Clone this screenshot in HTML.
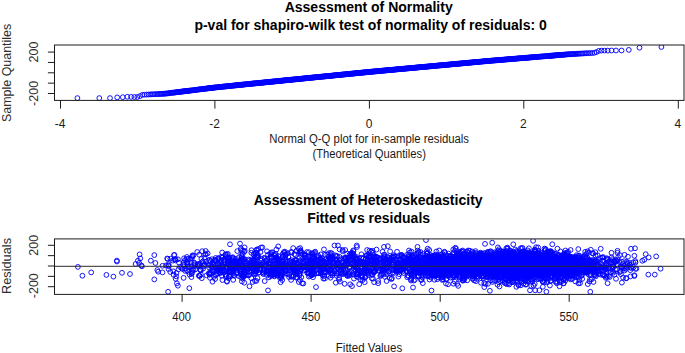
<!DOCTYPE html>
<html><head><meta charset="utf-8"><title>Residual diagnostics</title>
<style>html,body{margin:0;padding:0;background:#fff}svg{display:block}</style></head><body>
<svg width="685" height="353" viewBox="0 0 685 353" font-family="'Liberation Sans', Arial, sans-serif">
<rect width="685" height="353" fill="#fff"/>
<defs>
<marker id="c" markerWidth="8" markerHeight="8" refX="4" refY="4" markerUnits="userSpaceOnUse" overflow="visible"><circle cx="4" cy="4" r="2.4" fill="none" stroke="#00f" stroke-width="0.92"/></marker>
<filter id="b" x="0" y="0" width="100%" height="100%" filterUnits="userSpaceOnUse" primitiveUnits="userSpaceOnUse"><feGaussianBlur stdDeviation="0.4"/></filter>
<clipPath id="k1"><rect x="54.5" y="45.0" width="629.5" height="55.900000000000006"/></clipPath>
<clipPath id="k2"><rect x="54.5" y="238.9" width="629.5" height="55.49999999999997"/></clipPath>
</defs>
<text x="368.7" y="11.8" font-size="14" text-anchor="middle" font-weight="bold">Assessment of Normality</text>
<text x="370.6" y="29.9" font-size="14" text-anchor="middle" font-weight="bold">p-val for shapiro-wilk test of normality of residuals: 0</text>
<g clip-path="url(#k1)"><polyline filter="url(#b)" fill="none" stroke="none" marker-start="url(#c)" marker-mid="url(#c)" marker-end="url(#c)" points="77.4,98.1 99.3,98.1 110.0,98.1 117.2,97.4 122.8,97.2 127.3,96.8 131.1,96.9 134.4,97.0 137.3,97.0 140.0,96.1 142.4,94.8 144.5,94.7 146.6,94.6 148.4,94.5 150.2,94.4 151.8,94.3 153.4,94.3 154.9,94.2 156.3,94.1 157.6,94.1 158.9,94.0 160.1,93.9 161.3,93.9 162.4,93.8 163.5,93.8 164.5,93.7 165.5,93.6 166.5,93.5 167.4,93.4 168.3,93.3 169.2,93.2 170.1,93.0 170.9,92.9 171.7,92.8 172.5,92.7 173.3,92.6 174.0,92.6 174.8,92.5 175.5,92.4 176.2,92.3 176.9,92.2 177.5,92.1 178.2,92.0 178.8,92.0 179.5,91.9 180.1,91.8 180.7,91.7 181.3,91.7 181.8,91.6 182.4,91.5 183.0,91.4 183.5,91.4 184.1,91.3 184.6,91.2 185.1,91.2 185.7,91.1 186.2,91.1 186.7,91.0 187.2,90.9 187.6,90.9 188.1,90.8 188.6,90.8 189.1,90.7 189.5,90.6 190.0,90.6 190.9,90.5 191.7,90.4 192.6,90.3 193.4,90.2 194.2,90.1 195.0,90.0 195.7,89.9 196.5,89.8 197.2,89.7 197.9,89.6 198.7,89.5 199.3,89.4 200.0,89.3 200.7,89.3 201.3,89.2 202.0,89.1 202.6,89.0 203.2,88.9 203.8,88.9 204.4,88.8 205.0,88.7 205.6,88.7 206.2,88.6 206.7,88.5 207.3,88.4 207.8,88.4 208.4,88.3 208.9,88.2 209.4,88.2 209.9,88.1 210.4,88.1 210.9,88.0 211.4,87.9 211.9,87.9 212.4,87.8 212.9,87.8 213.3,87.7 213.8,87.6 214.3,87.6 214.7,87.5 215.4,87.5 216.0,87.4 216.7,87.3 217.3,87.3 217.9,87.2 218.6,87.1 219.2,87.1 219.8,87.0 220.3,86.9 220.9,86.9 221.5,86.8 222.1,86.8 222.6,86.7 223.2,86.6 223.7,86.6 224.2,86.5 224.8,86.5 225.3,86.4 225.8,86.4 226.3,86.3 226.8,86.3 227.3,86.2 227.8,86.2 228.3,86.1 228.8,86.1 229.2,86.0 229.7,86.0 230.2,85.9 230.6,85.9 231.1,85.8 231.7,85.8 232.3,85.7 232.9,85.6 233.4,85.6 234.0,85.5 234.6,85.5 235.1,85.4 235.6,85.4 236.2,85.3 236.7,85.2 237.2,85.2 237.8,85.1 238.3,85.1 238.8,85.0 239.3,85.0 239.8,84.9 240.3,84.9 240.8,84.8 241.3,84.8 241.7,84.7 242.2,84.7 242.7,84.6 243.1,84.6 243.6,84.5 244.0,84.5 244.6,84.4 245.2,84.4 245.7,84.3 246.2,84.3 246.8,84.2 247.3,84.1 247.8,84.1 248.4,84.0 248.9,84.0 249.4,83.9 249.9,83.9 250.4,83.8 250.9,83.8 251.4,83.7 251.9,83.7 252.3,83.6 252.8,83.6 253.3,83.5 253.7,83.5 254.2,83.4 254.7,83.4 255.1,83.4 255.6,83.3 256.1,83.3 256.6,83.2 257.2,83.2 257.7,83.1 258.2,83.0 258.7,83.0 259.2,82.9 259.7,82.9 260.2,82.8 260.7,82.8 261.2,82.7 261.7,82.7 262.1,82.7 262.6,82.6 263.1,82.6 263.5,82.5 264.0,82.5 264.5,82.4 264.9,82.4 265.4,82.3 265.9,82.3 266.4,82.2 266.9,82.2 267.4,82.1 267.9,82.1 268.4,82.0 268.9,82.0 269.4,81.9 269.9,81.9 270.4,81.8 270.9,81.8 271.4,81.7 271.8,81.7 272.3,81.6 272.8,81.6 273.2,81.5 273.7,81.5 274.1,81.5 274.6,81.4 275.1,81.4 275.6,81.3 276.1,81.3 276.6,81.2 277.1,81.2 277.6,81.1 278.1,81.1 278.6,81.0 279.1,81.0 279.5,80.9 280.0,80.9 280.5,80.8 280.9,80.8 281.4,80.7 281.9,80.7 282.3,80.6 282.8,80.6 283.2,80.5 283.7,80.5 284.2,80.4 284.7,80.4 285.2,80.3 285.7,80.3 286.2,80.2 286.7,80.2 287.2,80.1 287.7,80.1 288.1,80.0 288.6,80.0 289.1,80.0 289.5,79.9 290.0,79.9 290.5,79.8 290.9,79.8 291.4,79.7 291.8,79.7 292.3,79.6 292.8,79.6 293.3,79.5 293.8,79.5 294.3,79.4 294.8,79.4 295.3,79.3 295.7,79.3 296.2,79.2 296.7,79.2 297.2,79.1 297.6,79.1 298.1,79.0 298.5,79.0 299.0,79.0 299.5,78.9 299.9,78.9 300.4,78.8 300.9,78.8 301.4,78.7 301.8,78.7 302.3,78.6 302.8,78.6 303.3,78.5 303.8,78.5 304.3,78.4 304.7,78.4 305.2,78.3 305.7,78.3 306.1,78.2 306.6,78.2 307.1,78.1 307.5,78.1 308.0,78.1 308.4,78.0 308.9,78.0 309.3,77.9 309.8,77.9 310.3,77.8 310.8,77.8 311.3,77.7 311.8,77.7 312.2,77.6 312.7,77.6 313.2,77.5 313.7,77.5 314.1,77.4 314.6,77.4 315.1,77.3 315.5,77.3 316.0,77.3 316.5,77.2 316.9,77.2 317.4,77.1 317.8,77.1 318.3,77.0 318.7,77.0 319.2,76.9 319.7,76.9 320.2,76.8 320.7,76.8 321.1,76.7 321.6,76.7 322.1,76.6 322.6,76.6 323.0,76.5 323.5,76.5 324.0,76.5 324.4,76.4 324.9,76.4 325.4,76.3 325.8,76.3 326.3,76.2 326.8,76.2 327.2,76.1 327.7,76.1 328.1,76.0 328.6,76.0 329.0,75.9 329.5,75.9 330.0,75.9 330.4,75.8 330.9,75.8 331.4,75.7 331.9,75.7 332.4,75.6 332.8,75.6 333.3,75.5 333.8,75.5 334.2,75.4 334.7,75.4 335.2,75.3 335.6,75.3 336.1,75.2 336.6,75.2 337.0,75.1 337.5,75.1 338.0,75.1 338.4,75.0 338.9,75.0 339.3,74.9 339.8,74.9 340.2,74.8 340.7,74.8 341.2,74.7 341.6,74.7 342.1,74.6 342.5,74.6 343.0,74.5 343.5,74.5 343.9,74.5 344.4,74.4 344.9,74.4 345.4,74.3 345.9,74.3 346.3,74.2 346.8,74.2 347.3,74.1 347.8,74.1 348.2,74.0 348.7,74.0 349.2,73.9 349.6,73.9 350.1,73.8 350.6,73.8 351.0,73.7 351.5,73.7 352.0,73.6 352.4,73.6 352.9,73.6 353.4,73.5 353.8,73.5 354.3,73.4 354.7,73.4 355.2,73.3 355.7,73.3 356.1,73.2 356.6,73.2 357.1,73.1 357.5,73.1 358.0,73.0 358.4,73.0 358.9,73.0 359.3,72.9 359.8,72.9 360.3,72.8 360.7,72.8 361.2,72.7 361.6,72.7 362.1,72.6 362.5,72.6 363.0,72.5 363.5,72.5 363.9,72.5 364.4,72.4 364.8,72.4 365.3,72.3 365.7,72.3 366.2,72.2 366.6,72.2 367.1,72.1 367.5,72.1 368.0,72.0 368.4,72.0 368.9,72.0 369.4,71.9 369.8,71.9 370.3,71.8 370.7,71.8 371.2,71.7 371.6,71.7 372.1,71.7 372.5,71.6 373.0,71.6 373.4,71.5 373.9,71.5 374.3,71.4 374.8,71.4 375.3,71.4 375.7,71.3 376.2,71.3 376.6,71.2 377.1,71.2 377.5,71.2 378.0,71.1 378.4,71.1 378.9,71.0 379.4,71.0 379.8,70.9 380.3,70.9 380.7,70.9 381.2,70.8 381.7,70.8 382.1,70.7 382.6,70.7 383.0,70.6 383.5,70.6 384.0,70.6 384.4,70.5 384.9,70.5 385.3,70.4 385.8,70.4 386.3,70.3 386.7,70.3 387.2,70.3 387.7,70.2 388.1,70.2 388.6,70.1 389.1,70.1 389.5,70.0 390.0,70.0 390.5,70.0 391.0,69.9 391.4,69.9 391.9,69.8 392.4,69.8 392.8,69.7 393.3,69.7 393.8,69.7 394.3,69.6 394.8,69.6 395.2,69.5 395.7,69.5 396.2,69.4 396.6,69.4 397.1,69.3 397.6,69.3 398.0,69.3 398.5,69.2 398.9,69.2 399.4,69.1 399.8,69.1 400.3,69.1 400.7,69.0 401.2,69.0 401.7,68.9 402.1,68.9 402.6,68.8 403.1,68.8 403.5,68.8 404.0,68.7 404.5,68.7 404.9,68.6 405.4,68.6 405.9,68.5 406.3,68.5 406.8,68.5 407.3,68.4 407.8,68.4 408.3,68.3 408.7,68.3 409.2,68.2 409.7,68.2 410.2,68.1 410.6,68.1 411.1,68.1 411.5,68.0 412.0,68.0 412.4,67.9 412.9,67.9 413.4,67.8 413.8,67.8 414.3,67.8 414.8,67.7 415.2,67.7 415.7,67.6 416.2,67.6 416.6,67.5 417.1,67.5 417.6,67.5 418.1,67.4 418.5,67.4 419.0,67.3 419.5,67.3 420.0,67.2 420.4,67.2 420.9,67.2 421.4,67.1 421.8,67.1 422.3,67.0 422.7,67.0 423.2,66.9 423.7,66.9 424.1,66.9 424.6,66.8 425.1,66.8 425.5,66.7 426.0,66.7 426.5,66.6 427.0,66.6 427.4,66.6 427.9,66.5 428.4,66.5 428.9,66.4 429.4,66.4 429.8,66.3 430.3,66.3 430.7,66.2 431.2,66.2 431.7,66.2 432.1,66.1 432.6,66.1 433.0,66.0 433.5,66.0 434.0,65.9 434.5,65.9 434.9,65.9 435.4,65.8 435.9,65.8 436.4,65.7 436.9,65.7 437.4,65.6 437.8,65.6 438.3,65.5 438.8,65.5 439.2,65.5 439.7,65.4 440.2,65.4 440.6,65.3 441.1,65.3 441.6,65.3 442.0,65.2 442.5,65.2 443.0,65.1 443.4,65.1 443.9,65.0 444.4,65.0 444.9,64.9 445.4,64.9 445.9,64.9 446.4,64.8 446.9,64.8 447.3,64.7 447.8,64.7 448.2,64.6 448.7,64.6 449.2,64.6 449.6,64.5 450.1,64.5 450.6,64.4 451.0,64.4 451.5,64.3 452.0,64.3 452.5,64.2 453.0,64.2 453.5,64.2 453.9,64.1 454.4,64.1 454.9,64.0 455.5,64.0 455.9,63.9 456.4,63.9 456.8,63.8 457.3,63.8 457.7,63.8 458.2,63.7 458.7,63.7 459.2,63.6 459.6,63.6 460.1,63.5 460.6,63.5 461.1,63.5 461.6,63.4 462.1,63.4 462.6,63.3 463.1,63.3 463.6,63.2 464.1,63.2 464.5,63.1 465.0,63.1 465.4,63.1 465.9,63.0 466.4,63.0 466.8,62.9 467.3,62.9 467.8,62.8 468.3,62.8 468.7,62.7 469.2,62.7 469.7,62.7 470.2,62.6 470.7,62.6 471.2,62.5 471.7,62.5 472.2,62.4 472.8,62.4 473.3,62.3 473.7,62.3 474.2,62.2 474.6,62.2 475.1,62.2 475.6,62.1 476.0,62.1 476.5,62.0 477.0,62.0 477.5,61.9 477.9,61.9 478.4,61.9 478.9,61.8 479.4,61.8 479.9,61.7 480.4,61.7 481.0,61.6 481.5,61.6 482.0,61.5 482.5,61.5 483.1,61.4 483.6,61.4 484.0,61.3 484.5,61.3 485.0,61.3 485.4,61.2 485.9,61.2 486.4,61.1 486.9,61.1 487.3,61.0 487.8,61.0 488.3,60.9 488.8,60.9 489.3,60.9 489.8,60.8 490.3,60.8 490.9,60.7 491.4,60.7 491.9,60.6 492.4,60.6 493.0,60.5 493.5,60.5 494.1,60.5 494.6,60.4 495.1,60.4 495.6,60.3 496.0,60.3 496.5,60.3 497.0,60.2 497.4,60.2 497.9,60.1 498.4,60.1 498.9,60.1 499.4,60.0 499.9,60.0 500.4,59.9 500.9,59.9 501.4,59.8 501.9,59.8 502.5,59.8 503.0,59.7 503.6,59.7 504.1,59.6 504.7,59.6 505.2,59.5 505.8,59.5 506.4,59.4 507.0,59.4 507.6,59.3 508.0,59.3 508.5,59.3 508.9,59.2 509.4,59.2 509.9,59.1 510.4,59.1 510.8,59.1 511.3,59.0 511.8,59.0 512.3,58.9 512.8,58.9 513.3,58.9 513.9,58.8 514.4,58.8 514.9,58.7 515.5,58.7 516.0,58.6 516.6,58.6 517.1,58.5 517.7,58.5 518.3,58.4 518.8,58.4 519.4,58.3 520.0,58.3 520.7,58.2 521.3,58.2 521.9,58.1 522.6,58.1 523.2,58.0 523.9,58.0 524.5,57.9 525.0,57.9 525.5,57.8 525.9,57.8 526.4,57.8 526.9,57.7 527.4,57.7 527.9,57.7 528.4,57.6 528.9,57.6 529.4,57.5 529.9,57.5 530.4,57.4 531.0,57.4 531.5,57.3 532.1,57.3 532.6,57.3 533.2,57.2 533.8,57.2 534.4,57.1 535.0,57.1 535.6,57.0 536.2,57.0 536.8,56.9 537.5,56.9 538.1,56.8 538.8,56.7 539.5,56.7 540.1,56.6 540.9,56.6 541.6,56.5 542.3,56.5 543.1,56.4 543.8,56.3 544.6,56.3 545.4,56.2 546.2,56.1 547.1,56.1 547.9,56.0 548.8,55.9 549.3,55.9 549.7,55.8 550.2,55.8 550.7,55.8 551.2,55.7 551.6,55.7 552.1,55.6 552.6,55.6 553.1,55.6 553.7,55.5 554.2,55.5 554.7,55.4 555.3,55.4 555.8,55.3 556.4,55.3 557.0,55.2 557.5,55.2 558.1,55.1 558.7,55.1 559.3,55.0 560.0,55.0 560.6,54.9 561.3,54.9 561.9,54.8 562.6,54.8 563.3,54.7 564.0,54.7 564.8,54.6 565.5,54.5 566.3,54.5 567.1,54.4 567.9,54.3 568.7,54.3 569.6,54.2 570.5,54.2 571.4,54.1 572.3,54.1 573.3,54.0 574.3,54.0 575.3,53.9 576.4,53.8 577.5,53.8 578.7,53.7 579.9,53.6 581.2,53.6 582.5,53.5 583.9,53.4 585.4,53.3 587.0,53.2 588.6,53.2 590.4,53.1 592.2,53.0 594.3,52.8 596.4,52.1 598.8,50.9 601.5,50.6 604.4,50.6 607.7,50.6 611.5,50.5 616.0,50.5 621.6,50.5 628.8,49.9 639.5,47.7 661.4,47.0"/></g>
<g stroke="#1c1c1c" stroke-width="1" fill="none">
<rect x="54.5" y="45.0" width="629.5" height="55.400000000000006"/>
<line x1="60.5" y1="100.4" x2="60.5" y2="108.6"/>
<line x1="214.9" y1="100.4" x2="214.9" y2="108.6"/>
<line x1="369.4" y1="100.4" x2="369.4" y2="108.6"/>
<line x1="523.8" y1="100.4" x2="523.8" y2="108.6"/>
<line x1="678.3" y1="100.4" x2="678.3" y2="108.6"/>
<line x1="47.9" y1="52.1" x2="54.5" y2="52.1"/>
<line x1="47.9" y1="62.45" x2="54.5" y2="62.45"/>
<line x1="47.9" y1="72.8" x2="54.5" y2="72.8"/>
<line x1="47.9" y1="83.15" x2="54.5" y2="83.15"/>
<line x1="47.9" y1="93.5" x2="54.5" y2="93.5"/>
</g>
<text x="60.2" y="128.4" font-size="12" text-anchor="middle" fill="#1a1a1a">-4</text>
<text x="214.6" y="128.4" font-size="12" text-anchor="middle" fill="#1a1a1a">-2</text>
<text x="369.0" y="128.4" font-size="12" text-anchor="middle" fill="#1a1a1a">0</text>
<text x="523.4" y="128.4" font-size="12" text-anchor="middle" fill="#1a1a1a">2</text>
<text x="677.9" y="128.4" font-size="12" text-anchor="middle" fill="#1a1a1a">4</text>
<text x="38.0" y="52.0" font-size="12.5" text-anchor="middle" fill="#2e2e2e" transform="rotate(-90 38.0 52.0)">200</text>
<text x="38.0" y="93.4" font-size="12.5" text-anchor="middle" fill="#2e2e2e" transform="rotate(-90 38.0 93.4)">-200</text>
<text x="10.6" y="72.9" font-size="12.3" text-anchor="middle" fill="#2e2e2e" transform="rotate(-90 10.6 72.9)" textLength="98.3" lengthAdjust="spacingAndGlyphs">Sample Quantiles</text>
<text x="369.2" y="143.2" font-size="12" text-anchor="middle" fill="#1a1a1a" textLength="199.7" lengthAdjust="spacingAndGlyphs">Normal Q-Q plot for in-sample residuals</text>
<text x="369.2" y="158.1" font-size="12" text-anchor="middle" fill="#1a1a1a" textLength="113.5" lengthAdjust="spacingAndGlyphs">(Theoretical Quantiles)</text>
<text x="368.2" y="204.8" font-size="14" text-anchor="middle" font-weight="bold" textLength="229" lengthAdjust="spacingAndGlyphs">Assessment of Heteroskedasticity</text>
<text x="368.6" y="222.9" font-size="14" text-anchor="middle" font-weight="bold">Fitted vs residuals</text>
<g clip-path="url(#k2)"><polyline filter="url(#b)" fill="none" stroke="none" marker-start="url(#c)" marker-mid="url(#c)" marker-end="url(#c)" points="204.5,257.6 212.4,271.4 209.0,265.4 188.7,258.8 192.4,269.6 211.7,266.0 168.6,264.3 210.3,264.6 209.6,274.6 199.2,264.6 192.5,255.4 191.4,277.1 190.2,259.0 198.4,264.3 200.5,270.1 202.2,251.2 214.9,259.7 209.5,274.4 204.4,264.6 214.7,261.0 188.2,266.6 185.0,260.2 204.1,265.6 175.5,260.4 174.4,254.9 200.9,270.3 199.1,263.7 212.9,268.7 204.7,264.2 200.9,274.3 200.2,269.6 189.9,266.6 170.4,258.7 186.9,257.0 206.6,275.3 199.2,254.7 181.4,268.0 209.0,267.4 198.8,275.8 173.3,271.3 207.6,253.4 212.4,270.3 210.4,273.3 194.3,262.7 174.0,255.1 176.2,276.4 211.5,266.7 193.5,270.0 175.7,278.8 209.4,259.9 197.8,265.3 194.3,264.6 185.1,270.9 186.7,261.9 178.5,269.3 168.8,266.2 209.1,273.7 189.5,274.5 193.3,255.6 182.5,269.0 203.1,263.0 168.2,265.4 184.9,268.5 168.5,269.0 172.9,260.6 213.4,267.4 198.6,266.3 187.6,264.9 192.1,256.7 208.9,260.3 183.5,262.4 195.3,269.5 199.8,275.8 184.1,258.3 191.9,258.2 203.7,266.2 210.6,261.2 174.3,259.5 211.8,259.2 167.2,258.5 203.1,268.6 205.9,254.3 173.6,274.8 187.1,259.0 206.1,261.6 167.7,258.9 197.2,252.0 205.1,254.5 191.6,274.0 201.8,278.2 177.9,259.3 176.5,273.0 184.4,265.2 175.6,259.1 183.6,277.9 212.5,281.7 194.5,263.3 183.3,264.8 180.0,267.0 212.7,264.8 188.3,271.8 214.1,276.8 191.7,266.4 192.0,272.6 210.0,277.8 202.7,261.5 194.9,265.6 187.5,262.2 209.2,272.8 186.8,270.2 211.3,272.8 170.3,272.0 187.6,263.7 191.9,271.2 212.6,262.6 179.0,262.7 205.7,251.0 199.5,275.9 201.4,258.8 197.2,265.8 268.1,254.6 310.9,264.3 353.0,253.8 236.2,262.7 294.9,272.1 243.1,265.6 354.1,256.1 389.4,258.2 294.1,265.1 293.1,264.7 328.3,266.0 260.2,269.7 267.0,251.3 284.3,265.0 311.1,274.1 232.1,268.9 373.1,259.8 336.6,260.4 277.9,266.2 231.3,270.4 375.3,264.9 242.5,278.5 243.0,275.5 242.4,259.3 232.1,268.9 405.3,262.4 271.5,256.2 279.3,260.3 389.9,264.9 345.2,250.0 254.3,260.2 306.3,267.9 400.6,259.7 293.8,262.1 364.3,271.9 235.3,264.6 367.7,266.4 378.1,280.9 388.4,266.5 356.6,267.4 292.9,268.6 228.5,278.2 323.9,267.9 374.1,265.4 255.1,264.4 270.9,274.1 327.6,260.5 372.1,274.8 403.3,266.9 241.4,255.6 253.7,270.6 382.9,269.2 350.3,257.2 366.4,268.2 424.3,267.5 412.2,263.5 392.0,257.4 378.2,283.2 298.0,271.7 349.7,273.1 253.7,273.7 374.5,271.9 374.1,271.8 366.5,262.9 308.4,272.2 294.4,264.2 303.2,262.2 222.0,270.9 392.3,264.1 328.9,253.2 296.4,262.8 330.1,270.2 366.5,265.6 295.1,272.4 389.4,263.1 408.1,258.8 296.4,271.6 243.9,266.8 374.7,257.0 423.5,269.0 246.1,263.7 364.7,273.2 388.3,271.6 408.3,269.2 240.9,250.1 234.3,268.3 422.5,269.2 239.5,269.5 252.1,266.4 335.7,260.4 308.7,263.8 372.6,250.8 255.0,263.6 407.0,254.8 260.6,263.1 376.5,260.8 229.2,276.3 314.4,266.1 221.8,265.6 280.9,267.0 280.6,282.2 366.1,258.8 310.6,268.1 226.9,268.5 424.0,267.1 401.6,266.9 407.4,262.2 266.8,274.9 297.8,272.3 262.7,263.0 241.2,264.1 221.9,268.0 320.7,269.5 240.9,271.6 252.0,265.6 395.7,256.7 316.7,273.3 253.6,254.3 355.7,259.1 270.8,268.6 325.7,259.5 274.4,276.4 323.4,278.6 347.0,275.1 327.6,268.3 298.1,267.6 381.1,269.1 398.4,264.4 252.7,282.0 243.6,261.6 238.8,276.1 420.7,270.2 412.7,268.3 263.4,274.1 418.7,275.7 258.6,272.9 321.4,265.2 319.5,260.9 407.1,261.1 223.5,272.8 281.2,271.2 341.0,272.2 228.9,261.9 264.7,281.1 312.7,256.3 400.0,268.9 374.8,271.2 389.1,262.7 374.8,257.8 363.6,262.7 393.4,257.6 358.1,264.1 369.5,256.4 278.3,256.2 250.2,265.9 373.9,254.9 249.8,263.9 408.1,264.5 340.3,272.2 284.2,267.3 411.7,259.6 247.6,275.3 323.0,260.5 234.2,262.6 417.7,263.1 335.8,282.7 383.8,265.9 274.2,260.5 383.4,271.0 362.6,264.5 350.2,284.3 414.6,260.3 306.0,270.2 302.2,258.9 360.3,279.4 390.4,260.2 285.4,266.9 355.6,259.4 258.9,272.3 330.9,269.9 376.5,249.6 228.7,271.5 367.8,270.6 218.2,267.2 416.3,273.0 313.4,256.6 300.9,252.9 366.3,270.6 324.9,278.5 368.5,256.8 232.8,257.2 333.2,259.3 332.2,256.9 410.7,271.8 223.3,266.4 310.1,275.8 347.5,276.1 330.7,258.1 230.6,270.3 339.6,249.4 261.7,264.6 256.1,270.1 399.5,259.4 256.5,252.5 310.4,261.6 372.6,274.5 363.5,262.5 331.2,255.3 384.5,268.9 312.8,271.1 345.3,257.9 387.0,264.1 357.4,273.6 349.8,268.0 300.3,271.0 332.2,263.0 298.2,264.3 371.3,256.9 294.9,260.1 313.0,277.2 373.6,262.2 320.8,258.7 286.0,261.9 388.6,257.8 295.0,269.4 392.4,272.5 379.9,258.5 308.9,273.3 364.7,282.2 222.2,257.8 296.9,270.7 395.7,267.5 336.7,275.9 332.1,275.4 354.6,274.1 357.3,267.9 337.6,262.5 303.3,283.5 253.5,259.7 276.5,274.3 276.5,273.4 305.5,260.3 424.8,265.7 289.0,277.0 308.9,252.2 293.0,271.8 337.1,263.3 414.1,263.7 401.7,255.1 294.2,268.6 271.0,257.9 400.7,270.8 318.7,257.1 359.0,271.0 230.4,267.9 397.0,251.8 280.7,262.8 318.9,264.3 256.6,249.6 303.3,262.5 388.9,271.4 388.8,259.9 314.5,274.2 376.3,257.1 311.2,256.5 293.4,269.5 329.6,270.0 257.3,263.8 281.5,265.0 363.4,272.7 376.8,261.1 226.9,281.1 368.9,268.5 386.7,268.2 308.5,267.2 228.1,262.9 358.4,274.6 266.7,260.9 350.1,266.5 294.1,270.1 348.8,275.7 269.2,274.3 315.1,262.5 325.2,272.6 347.5,264.6 257.7,257.5 417.0,257.8 275.7,254.0 279.3,267.4 268.8,273.5 229.2,257.8 303.8,262.9 377.1,257.1 364.0,265.0 256.1,256.6 243.8,259.1 282.5,260.0 376.3,261.5 317.5,262.3 408.9,263.4 352.8,263.5 345.4,258.1 376.2,269.1 372.6,252.9 287.2,265.9 269.0,258.1 306.9,265.8 317.7,267.0 244.8,251.0 307.7,267.5 349.4,275.0 243.5,270.6 244.0,267.6 251.5,250.2 274.5,263.6 417.0,258.4 220.4,272.9 253.6,262.6 249.7,260.3 314.6,252.5 218.2,270.5 311.2,260.8 249.2,262.9 271.6,273.0 381.4,265.3 253.7,267.1 344.6,283.8 300.3,260.8 302.7,261.3 386.5,268.5 248.8,275.5 409.0,254.6 402.6,263.2 355.3,257.9 225.4,255.1 354.3,269.1 341.1,259.3 377.2,267.0 259.9,265.6 415.2,265.8 401.1,265.1 239.0,257.2 281.2,264.2 221.8,266.3 389.5,267.2 407.2,262.7 422.9,272.0 343.5,269.0 354.9,265.5 357.5,269.5 334.7,266.0 415.0,269.8 342.7,251.2 285.5,255.6 322.7,261.9 218.9,265.5 367.1,250.0 360.7,262.8 303.4,265.8 393.8,262.9 373.7,262.9 285.7,255.1 231.3,265.2 242.8,250.5 253.7,271.9 278.8,260.2 309.0,272.9 409.9,252.4 273.5,267.7 403.7,265.6 357.9,258.5 394.2,256.2 299.7,273.7 215.7,267.8 380.3,275.9 266.5,264.1 244.9,265.9 382.9,267.8 359.1,270.4 259.6,268.1 271.2,270.9 412.2,261.3 271.4,254.3 362.5,280.1 242.2,266.0 386.2,268.3 239.7,261.6 323.4,272.5 222.4,266.2 330.5,273.1 392.8,260.1 232.7,264.4 272.6,266.4 375.6,262.5 342.7,267.0 280.7,277.1 347.1,260.9 310.5,263.0 396.1,266.3 276.5,258.1 374.1,256.4 348.5,273.6 370.5,271.1 294.4,254.1 367.2,255.0 361.7,270.8 296.4,274.2 220.6,270.0 417.2,269.0 364.9,277.4 258.0,264.9 368.5,275.0 273.5,274.5 313.5,258.6 395.6,270.4 309.1,265.7 275.5,260.6 279.2,259.3 231.2,267.7 261.1,264.8 271.9,271.5 251.3,252.8 228.2,260.5 312.8,273.6 260.0,265.1 370.1,260.0 408.7,261.7 272.3,252.3 335.2,255.3 321.4,269.3 230.8,265.8 241.2,275.0 400.8,263.3 314.6,264.0 384.0,246.9 229.0,264.4 339.9,281.6 396.7,270.3 397.1,264.3 216.2,274.8 324.6,271.8 292.5,267.9 374.6,262.7 230.4,266.4 270.6,272.0 385.7,259.5 313.6,269.3 310.2,269.0 418.4,275.8 282.2,271.2 223.8,260.5 297.4,277.6 247.2,265.7 232.2,260.0 334.3,268.0 415.3,263.4 336.7,273.7 350.9,255.8 283.0,257.3 334.9,263.4 373.0,278.7 338.7,273.2 383.6,258.2 330.6,253.0 256.6,263.0 337.4,256.2 318.1,269.8 249.8,266.6 345.0,265.1 386.6,262.1 243.4,276.9 329.4,258.4 369.1,255.7 299.6,274.0 271.7,275.6 293.2,262.6 328.8,270.2 359.2,284.2 332.4,259.3 237.5,264.0 386.8,268.8 409.0,250.5 236.3,264.1 267.4,270.9 251.5,264.4 393.3,273.2 406.2,271.0 224.3,262.4 284.8,269.4 255.4,268.6 313.6,253.3 408.5,259.0 229.7,259.4 251.0,261.3 317.3,261.7 325.0,254.7 371.6,265.3 306.9,252.1 244.6,272.5 289.3,267.1 421.2,275.8 372.7,267.8 239.4,261.4 384.7,254.8 280.3,270.2 379.1,265.1 217.7,267.9 398.0,270.8 249.1,274.3 310.7,264.7 354.0,278.6 321.7,264.3 249.7,265.0 244.2,270.2 274.8,272.9 226.0,275.8 260.5,252.0 242.3,275.5 312.6,254.0 289.9,260.8 338.2,267.9 274.0,274.1 222.1,257.7 284.5,252.9 373.6,272.3 268.7,267.4 300.0,257.6 373.5,262.7 300.4,251.2 401.3,269.5 407.8,261.2 280.2,274.8 369.6,250.6 268.2,270.8 244.3,282.7 307.0,266.1 341.5,266.2 411.5,251.7 245.6,267.7 364.6,265.2 314.8,260.9 242.7,253.8 419.3,265.6 361.1,257.7 242.1,261.4 405.2,267.4 236.6,264.5 234.5,264.9 284.6,272.2 412.0,256.5 221.9,275.8 407.8,256.8 343.4,258.3 229.1,265.8 334.4,271.0 311.3,266.9 333.4,261.7 369.8,259.8 357.5,263.1 424.4,258.0 247.9,269.4 385.7,263.4 301.3,277.2 379.5,259.7 402.3,264.0 423.3,268.3 270.9,256.8 310.1,260.2 413.0,287.5 413.6,264.8 293.3,276.4 412.4,257.5 300.2,248.1 293.7,269.1 373.9,264.6 314.0,267.0 309.1,262.6 296.1,260.5 305.9,255.9 244.4,272.7 227.8,253.9 373.3,272.3 333.5,263.1 356.1,256.9 383.5,260.0 263.3,272.4 264.1,270.5 273.4,268.7 278.8,265.5 374.7,256.9 293.6,275.1 282.9,261.8 348.6,260.8 254.2,261.1 237.3,261.8 361.4,254.3 373.9,261.6 277.2,259.0 348.6,261.1 222.2,252.5 299.9,279.9 336.4,256.0 268.2,267.1 288.1,267.3 343.0,272.6 338.9,279.6 247.4,268.1 363.4,270.4 231.8,261.6 418.6,276.5 257.5,254.9 268.2,263.2 257.1,267.0 423.2,270.6 275.2,271.2 342.1,273.8 423.0,269.3 414.5,265.1 223.9,266.5 324.4,276.1 341.3,267.2 362.5,272.0 285.5,264.0 283.9,252.1 215.9,260.7 222.4,267.5 330.5,277.7 230.9,276.1 257.5,278.2 285.0,259.9 229.8,271.0 221.5,264.7 409.7,269.9 306.4,264.5 258.0,255.1 363.8,270.4 217.0,267.7 266.5,271.3 416.8,258.9 403.5,273.0 348.5,273.9 234.6,275.8 281.8,276.0 220.9,261.7 261.0,247.6 220.3,272.8 241.5,258.3 348.0,263.3 236.1,273.6 247.7,267.2 404.6,266.9 285.4,270.4 284.9,251.6 233.2,279.9 382.1,262.4 357.0,262.7 329.9,269.6 344.8,264.0 236.1,258.9 269.7,264.0 337.6,262.1 415.0,260.2 386.6,281.0 349.6,254.6 324.0,249.4 218.2,258.1 402.1,257.9 229.0,276.0 242.1,266.0 360.5,271.4 385.6,269.6 380.2,258.2 310.0,271.3 252.2,266.1 222.4,280.0 393.8,266.3 420.3,264.5 266.3,270.6 396.9,270.7 299.5,251.9 280.4,274.5 321.1,273.2 216.7,271.4 308.0,256.6 256.9,250.5 364.6,262.7 320.5,270.7 397.5,268.4 403.3,257.5 281.5,272.2 273.9,254.8 412.2,255.0 320.8,264.6 235.3,260.5 224.6,259.8 423.0,254.0 336.6,273.2 226.4,256.7 322.4,268.0 320.9,271.0 306.4,264.4 414.8,266.8 414.2,272.7 241.2,277.5 246.9,272.4 300.6,254.8 390.1,251.4 346.0,260.5 368.3,256.7 336.0,269.1 259.1,265.7 386.7,263.1 217.9,273.5 361.7,272.8 255.8,264.4 313.9,267.6 419.8,273.3 328.2,262.3 227.0,267.1 305.0,257.8 353.7,265.1 226.9,267.4 268.1,264.2 218.9,266.4 328.4,270.3 295.1,268.2 320.8,259.8 277.1,260.5 352.9,255.9 251.3,278.2 405.4,268.1 416.6,268.3 318.5,263.9 312.7,268.6 395.5,269.1 275.9,259.5 383.7,263.8 275.3,274.1 366.2,255.6 285.1,258.0 341.5,269.5 409.4,259.2 226.4,270.8 384.5,257.1 328.8,266.8 294.6,271.3 288.6,268.0 229.6,271.0 269.3,263.7 345.9,263.9 235.5,264.8 355.6,269.4 417.1,264.4 421.0,279.9 401.7,263.4 384.4,257.1 252.4,263.2 418.7,268.1 257.6,266.5 397.5,266.1 399.4,269.4 345.6,269.6 324.5,272.3 257.1,256.6 324.1,265.2 276.0,258.3 241.4,267.0 241.9,264.6 383.2,266.4 408.7,261.8 244.8,259.2 217.8,263.4 270.4,270.3 243.2,271.1 254.6,253.4 337.5,267.3 303.7,267.4 305.1,254.7 258.2,257.4 354.6,261.3 275.8,268.2 298.8,248.9 312.3,262.3 404.9,261.2 266.7,266.4 365.9,276.0 280.0,275.4 402.8,262.2 297.8,262.3 321.1,267.0 399.2,274.2 356.3,276.3 234.8,267.6 243.7,276.4 423.1,258.7 221.1,256.9 278.2,246.4 416.4,258.9 218.2,269.7 248.9,271.8 259.8,269.7 233.1,266.5 314.1,258.2 339.4,260.7 281.8,260.9 237.8,263.6 385.3,260.4 383.9,254.8 333.0,273.3 243.9,268.6 328.8,275.8 347.2,253.6 304.9,255.9 396.4,259.7 296.9,274.4 322.3,263.9 239.0,266.9 333.3,264.5 376.0,266.6 368.6,261.4 269.0,268.2 423.3,259.0 366.2,263.4 304.0,267.4 302.1,266.0 378.7,268.5 251.9,259.3 349.3,267.2 366.0,263.0 323.4,268.1 398.4,276.6 313.4,258.7 312.6,273.3 274.8,260.3 408.1,262.1 281.4,277.9 361.0,272.4 301.0,269.1 411.4,271.5 414.1,274.3 221.3,259.8 423.9,267.0 342.0,262.4 230.5,268.4 319.4,262.9 225.4,270.9 330.3,265.3 253.9,261.0 292.3,264.8 279.0,268.6 341.5,273.5 387.7,263.9 411.7,262.6 284.1,267.1 334.6,271.1 216.2,261.2 293.2,248.1 416.7,267.4 240.0,262.7 397.7,262.4 352.0,286.1 276.7,264.2 378.4,270.6 275.7,255.2 402.9,267.1 232.4,271.1 240.0,266.8 372.5,263.9 309.3,269.4 246.0,265.5 322.8,275.6 277.4,266.8 330.4,259.6 371.2,251.4 394.9,260.1 227.4,263.2 339.4,256.7 421.6,257.8 311.6,253.3 376.6,257.4 235.4,266.0 398.4,263.3 337.2,263.8 401.5,263.0 380.3,263.7 397.5,271.2 227.0,281.7 365.3,270.3 256.4,280.9 270.8,264.6 283.2,265.1 339.2,278.1 346.9,260.2 410.6,258.9 217.7,264.4 255.6,253.3 291.0,252.0 386.8,274.4 330.5,257.7 322.5,262.0 374.6,262.1 352.6,258.5 275.9,270.7 233.3,269.7 312.1,271.5 399.8,270.9 340.6,265.9 226.2,276.3 307.4,273.2 295.8,261.0 337.3,265.6 338.3,262.4 414.8,279.8 286.0,271.2 300.7,269.4 343.8,264.9 401.1,269.6 363.3,258.5 313.9,265.6 386.1,265.0 316.9,265.0 417.3,260.1 274.3,268.8 241.8,257.1 389.4,261.8 277.4,264.0 393.0,264.8 343.0,261.4 321.9,257.9 233.3,258.4 380.1,262.4 228.8,258.9 417.7,264.3 399.2,256.2 278.6,265.3 241.9,281.4 401.0,255.6 315.8,264.3 241.2,274.2 319.7,266.6 266.8,271.9 300.6,250.5 349.5,261.6 407.2,277.2 383.2,261.2 248.8,268.2 315.2,251.7 318.3,273.2 422.8,283.1 233.2,264.6 322.3,267.8 407.0,268.3 298.8,282.0 270.0,262.1 331.7,253.3 282.2,280.0 409.7,256.8 232.8,269.5 258.4,249.0 232.6,262.0 364.5,266.6 276.6,257.2 404.0,261.4 402.7,269.7 411.6,260.0 268.8,269.1 215.1,279.0 296.4,251.0 417.1,267.8 375.4,269.8 227.5,262.7 362.5,277.2 407.6,275.6 418.2,269.0 365.4,269.1 396.2,264.6 391.8,257.1 290.3,268.8 235.8,261.6 367.8,260.8 243.8,273.5 295.7,263.5 424.1,272.4 332.6,257.5 324.6,261.9 414.1,265.0 274.6,275.5 424.9,264.3 406.5,271.0 291.4,260.1 283.7,266.0 241.6,271.4 407.3,258.5 254.0,260.0 216.9,269.7 401.9,256.8 340.6,267.4 356.1,267.5 369.0,264.2 224.0,270.9 234.3,268.5 320.0,266.3 225.6,254.2 320.9,254.4 369.6,267.1 353.1,253.7 344.5,265.4 224.7,262.4 264.7,258.8 403.5,263.0 240.9,248.5 327.0,263.4 225.5,274.4 412.2,255.8 251.0,268.3 301.1,267.5 329.8,258.0 365.9,259.3 411.9,259.4 369.6,258.1 287.9,253.2 230.8,265.5 363.6,258.4 419.2,270.9 218.6,267.8 377.7,257.6 252.0,262.3 311.6,275.4 324.8,262.5 344.0,266.5 422.8,271.4 359.4,262.0 297.4,268.2 365.2,277.3 313.0,273.7 301.8,252.7 291.8,276.8 318.6,263.5 274.0,260.8 265.8,260.6 246.2,274.6 307.4,267.6 276.6,264.1 390.8,259.4 393.1,270.1 287.2,274.1 345.0,258.0 404.5,257.2 290.4,262.5 331.5,269.8 308.1,262.2 351.6,264.3 416.6,259.1 244.1,274.8 417.7,264.3 354.8,266.3 382.1,273.7 348.4,263.6 397.8,264.9 283.5,268.3 363.7,262.3 270.5,276.1 321.8,265.5 358.1,262.0 257.2,263.1 227.8,257.4 381.1,274.4 384.9,276.8 354.8,263.4 282.5,261.9 353.2,250.4 232.6,260.7 354.1,271.9 336.0,259.4 344.6,271.6 308.9,276.6 262.3,247.4 367.4,262.8 312.5,260.0 371.5,261.1 291.5,252.4 233.4,263.1 328.9,256.4 345.8,273.1 408.6,275.9 401.4,254.9 227.0,254.6 377.1,261.5 269.9,263.5 361.4,263.9 294.7,270.4 282.6,254.2 317.5,260.4 326.4,261.5 360.8,262.4 349.0,257.6 357.4,261.5 295.7,259.8 357.2,274.1 287.5,261.5 342.6,250.0 311.5,269.1 333.2,266.1 218.7,258.8 319.7,258.3 261.2,260.7 296.0,277.6 230.5,261.5 352.9,274.3 402.6,271.5 289.5,261.2 237.1,267.4 345.3,259.3 241.7,259.6 402.2,260.0 240.7,272.0 291.0,270.1 318.9,273.3 239.8,269.2 281.9,273.6 272.8,270.2 364.8,266.7 422.1,272.8 291.2,276.1 381.1,275.6 244.5,261.9 336.8,264.7 305.9,257.8 275.5,257.7 387.6,267.7 371.7,260.3 243.1,276.3 276.4,249.4 387.1,256.6 423.4,266.8 343.4,274.1 398.1,262.4 421.7,279.7 370.5,271.1 350.4,259.8 261.5,264.6 292.8,268.9 345.9,258.3 409.5,273.1 278.4,263.1 298.0,269.0 219.7,271.7 361.3,261.8 308.1,272.8 382.5,251.8 264.1,269.6 353.5,251.2 356.3,273.6 312.5,260.8 254.6,274.4 299.6,275.5 371.5,264.0 254.7,260.3 233.9,275.0 312.2,256.7 264.2,271.3 383.1,264.2 386.6,262.4 413.5,260.9 391.4,279.1 351.0,253.6 254.3,261.1 387.8,268.4 367.9,273.0 371.8,278.3 361.5,275.6 389.3,261.2 277.5,267.7 356.2,273.9 323.6,269.2 285.9,254.0 283.6,267.7 247.6,269.6 318.2,255.5 292.4,261.8 303.5,264.8 393.9,269.8 358.1,277.1 357.9,274.2 421.6,268.8 260.7,266.8 321.7,262.6 234.4,261.2 297.5,263.5 414.6,263.5 233.0,272.9 374.1,282.2 396.7,269.1 321.9,272.5 382.5,270.2 307.6,267.2 289.2,274.7 321.2,273.7 255.9,265.9 279.6,264.3 279.1,270.2 422.6,261.6 285.4,266.8 263.1,273.0 412.4,264.8 244.1,251.9 417.8,270.3 394.2,256.8 350.9,255.3 304.8,254.4 256.4,271.5 237.3,251.1 236.8,264.3 288.3,267.1 300.5,266.9 409.0,260.8 327.6,264.7 423.0,266.5 366.4,256.0 245.7,270.7 331.2,273.2 248.5,259.5 223.2,260.1 413.2,257.3 285.9,273.4 254.8,257.4 236.4,261.7 351.9,252.7 311.8,274.8 217.5,263.5 365.2,267.2 268.9,277.4 378.9,270.6 317.6,257.1 327.5,268.7 311.0,270.7 357.0,258.9 422.9,258.1 382.6,258.1 229.5,271.2 318.9,265.5 264.2,257.8 236.5,270.2 256.0,270.9 267.1,259.2 416.5,254.0 371.4,274.0 394.1,286.4 361.8,276.3 281.3,272.9 297.1,266.2 307.5,260.7 276.6,266.2 303.5,270.5 376.9,264.0 230.9,272.5 273.1,265.5 315.6,270.1 357.0,247.0 350.6,259.3 367.2,271.6 237.1,272.8 253.0,268.5 279.9,277.9 274.2,270.8 373.7,270.8 423.6,258.8 358.5,268.4 221.9,271.2 277.5,275.5 383.6,274.2 409.1,265.6 339.9,266.8 288.3,257.0 289.6,270.0 348.0,257.6 396.5,263.3 286.6,265.1 255.0,280.8 215.6,275.1 243.9,259.8 393.7,255.2 346.2,263.6 423.0,259.7 229.6,268.3 291.9,268.0 382.1,270.2 353.9,258.2 229.0,262.7 299.3,266.9 348.9,267.6 359.4,261.1 309.9,262.8 254.5,271.5 417.8,253.0 313.0,263.3 365.6,265.0 327.3,254.6 231.9,257.8 264.7,265.8 228.2,261.3 255.1,273.4 257.0,270.1 302.1,283.2 282.6,256.4 291.1,279.9 386.5,260.3 219.5,271.5 236.7,272.7 384.6,266.6 327.1,263.2 307.2,260.7 271.1,252.6 328.9,262.5 261.5,258.8 395.3,269.7 388.0,260.0 282.6,264.0 220.1,268.7 401.4,265.8 277.7,265.6 352.9,263.7 395.2,262.2 382.7,269.0 396.1,270.8 317.7,259.8 391.9,278.3 311.8,269.9 270.4,254.1 316.0,287.1 285.4,270.5 376.1,260.2 389.7,277.9 244.6,247.4 249.5,286.3 295.6,254.9 312.3,254.0 415.8,258.6 412.8,266.8 418.1,262.6 368.2,272.0 357.2,259.3 271.8,273.8 293.3,267.2 215.6,258.0 389.9,273.7 273.0,267.9 231.6,263.9 281.3,275.5 282.9,256.8 439.6,260.8 436.9,265.4 439.6,258.4 433.6,257.0 410.1,263.0 413.5,263.1 419.6,266.0 415.4,263.0 411.8,274.1 437.5,262.6 437.3,264.0 433.0,272.2 417.6,250.6 435.6,273.0 434.6,272.2 419.7,263.5 413.8,280.6 414.1,271.6 422.3,277.3 435.0,273.0 412.3,266.5 422.9,263.2 420.6,257.6 436.8,259.8 414.6,257.1 429.7,261.3 419.7,269.1 429.4,257.6 434.7,269.3 434.7,270.3 435.4,254.6 418.8,259.9 418.3,263.9 413.7,260.1 417.7,259.2 413.6,276.1 433.5,266.2 411.4,274.6 415.8,264.6 433.7,270.7 433.1,255.8 439.2,261.8 421.5,271.8 411.4,265.7 434.2,274.9 418.6,265.2 433.2,261.6 410.6,263.6 411.0,280.6 427.9,268.1 430.5,261.9 426.9,263.3 426.0,257.3 427.9,275.5 413.9,261.8 411.9,270.6 420.5,264.1 426.4,262.6 417.5,260.6 415.4,270.0 423.4,264.2 422.3,274.6 418.1,276.5 437.8,261.6 438.3,266.0 411.4,278.1 424.4,272.1 417.1,265.4 420.1,254.4 410.9,258.1 412.4,259.8 411.0,279.4 413.8,266.3 429.5,262.1 412.4,262.7 436.6,262.6 434.1,267.4 418.1,253.1 430.7,255.0 438.6,266.3 413.5,273.1 426.8,251.2 424.0,269.8 419.3,257.0 418.6,252.1 412.6,272.9 429.4,263.4 415.9,268.2 422.7,261.9 437.8,263.2 420.4,251.9 419.5,261.3 438.0,265.6 427.5,257.5 427.1,267.7 416.7,268.4 429.2,250.0 421.4,271.9 426.3,269.3 421.9,265.2 495.2,268.1 545.6,277.2 557.9,264.2 475.1,265.3 434.6,270.8 545.4,259.2 489.0,263.0 563.6,269.1 534.1,269.0 477.6,275.8 546.6,266.7 503.3,251.8 527.0,270.4 551.5,262.6 508.0,269.3 560.5,260.1 482.0,262.5 479.2,267.0 516.6,278.1 482.9,269.0 526.2,257.5 501.0,267.1 531.2,261.2 543.1,268.8 506.1,278.7 555.8,262.5 536.7,263.2 547.6,269.5 427.8,268.0 427.2,263.4 515.8,269.6 472.6,263.1 549.8,266.8 481.0,282.8 531.4,266.4 460.2,269.6 515.0,271.3 553.8,262.7 548.3,268.8 477.4,261.8 493.9,258.2 501.6,264.4 474.3,276.3 494.2,270.5 562.9,259.3 550.8,267.2 470.0,271.1 522.8,266.0 560.6,262.0 476.8,263.6 546.3,261.1 539.0,271.2 551.8,267.3 437.1,267.1 557.0,265.5 565.3,280.5 459.5,267.0 515.5,274.9 437.9,256.2 511.1,255.1 526.3,254.4 531.6,260.0 547.5,268.8 467.0,259.0 441.6,266.7 541.8,261.3 428.7,271.7 458.3,269.5 458.9,262.2 535.8,253.8 488.2,265.5 544.8,251.0 520.5,248.3 545.5,274.4 537.4,265.5 550.8,272.1 464.5,266.3 475.8,269.1 514.9,265.8 508.4,259.0 536.2,259.1 540.6,263.6 468.6,265.3 442.3,264.5 531.0,264.4 523.3,261.5 464.6,265.2 433.1,262.0 428.3,274.6 460.5,260.1 464.1,253.9 454.7,264.1 432.2,275.3 449.4,256.4 475.0,267.6 438.2,266.8 454.5,261.3 487.6,262.7 546.3,257.1 549.6,261.2 482.9,264.4 443.0,279.4 463.5,273.2 521.5,264.1 483.2,260.8 506.6,272.6 530.4,269.6 519.2,262.2 547.9,278.9 437.2,279.2 467.5,266.9 429.9,263.6 499.5,268.7 512.9,282.2 461.3,265.1 432.9,274.7 491.3,261.0 449.0,266.0 452.8,263.5 479.5,261.0 560.1,269.0 476.5,259.8 526.4,257.1 478.3,262.6 483.0,256.5 445.0,269.7 451.4,259.2 535.2,263.5 486.4,272.3 465.8,265.8 566.1,269.0 550.6,269.2 462.8,264.7 487.1,258.3 506.1,267.5 448.8,264.4 486.1,275.7 465.6,264.5 540.9,257.7 438.5,259.9 566.8,262.1 458.7,269.0 472.4,272.2 435.8,265.9 555.5,274.8 543.4,274.0 434.7,259.1 500.5,271.8 480.9,253.6 511.7,275.4 473.0,262.4 561.7,273.6 456.2,264.1 542.3,272.7 463.3,265.0 517.9,266.4 486.2,268.5 500.2,261.9 499.6,255.3 514.5,269.5 434.7,259.4 433.5,264.7 563.8,265.5 461.2,251.3 476.0,281.1 459.3,270.1 517.3,278.2 565.7,267.5 482.6,266.9 471.0,263.0 475.0,253.6 428.9,256.7 437.8,268.4 431.9,262.1 471.3,254.4 565.8,264.1 445.2,263.9 503.5,261.9 454.6,276.0 430.3,271.0 544.7,263.0 443.2,261.7 444.3,271.8 541.9,267.6 459.9,266.1 453.4,266.3 559.9,260.7 452.8,264.5 543.9,264.2 468.9,275.4 505.9,272.8 469.5,263.1 473.5,276.6 558.3,263.5 554.8,270.0 450.0,271.1 528.6,261.0 445.0,270.1 467.8,271.4 435.1,270.1 517.6,264.9 528.9,248.3 531.7,280.7 535.7,265.4 481.5,267.0 450.3,259.0 425.6,267.9 488.0,283.8 558.5,256.6 489.2,273.1 513.1,265.7 556.1,275.1 548.3,273.1 530.8,268.9 509.7,259.7 458.1,259.8 532.1,269.6 484.7,262.0 526.0,268.0 456.9,264.6 559.5,264.3 448.5,261.2 538.1,269.7 552.3,266.3 446.7,263.9 548.7,264.7 517.1,271.1 511.3,254.1 461.3,268.6 472.0,260.4 458.6,264.0 488.1,257.3 517.6,281.4 529.2,252.2 525.9,266.9 474.6,274.2 473.1,264.5 534.2,250.9 564.3,262.0 456.7,274.2 484.0,268.7 464.5,256.6 564.4,275.4 427.4,266.7 552.6,267.5 534.7,251.5 472.5,267.5 522.3,256.7 477.9,270.2 516.1,271.1 485.8,258.8 555.8,261.3 490.4,277.8 541.2,261.2 507.4,261.1 478.3,269.8 563.2,263.9 452.9,263.6 554.9,268.9 565.3,269.6 546.4,270.2 512.3,267.3 514.0,274.9 557.8,265.7 486.9,276.1 542.9,264.9 535.8,266.0 547.8,272.8 488.0,259.8 518.3,252.9 438.2,256.7 435.3,275.2 440.4,257.0 530.2,263.9 475.8,265.8 554.9,269.7 436.3,265.5 449.7,256.3 544.6,261.8 484.8,268.4 456.5,270.2 536.7,268.4 458.5,261.5 564.2,253.3 464.3,273.0 547.8,265.4 493.6,268.2 558.7,270.8 467.4,262.8 557.3,261.8 468.3,275.5 489.1,272.8 515.5,257.5 504.3,263.3 520.9,262.0 524.5,269.0 463.3,268.1 426.3,262.4 528.5,269.0 510.8,273.3 505.6,265.4 495.9,259.5 557.8,272.8 467.5,258.5 555.4,260.8 449.0,271.6 524.3,265.4 559.6,265.7 447.1,261.2 535.1,261.0 464.0,274.7 433.4,275.0 486.7,258.6 525.0,264.6 465.5,262.7 560.9,263.2 425.3,255.4 463.3,274.0 473.9,258.2 478.0,271.2 467.9,260.6 428.1,256.6 455.0,275.3 462.4,262.7 521.2,267.4 479.0,267.5 528.3,265.1 488.3,272.9 473.7,272.3 447.7,261.1 457.7,259.9 553.9,269.5 490.1,275.8 469.8,250.7 456.2,258.2 550.4,263.0 525.7,272.7 524.3,269.6 540.1,263.8 459.5,272.2 529.5,254.9 435.2,264.5 520.1,262.8 471.1,272.7 519.6,271.9 457.4,271.0 475.6,263.6 520.8,267.3 559.3,267.5 473.7,263.3 449.2,263.9 442.8,255.7 521.0,266.8 552.9,272.6 427.4,265.5 474.3,255.8 449.2,269.3 561.5,265.1 443.9,267.9 434.8,262.7 534.8,263.7 567.9,271.2 535.7,267.0 441.4,259.3 483.3,258.3 499.4,259.4 553.5,259.8 532.7,267.8 433.6,268.0 489.8,259.3 536.3,273.7 502.7,265.8 520.3,278.6 563.3,268.1 564.9,270.4 544.7,273.9 506.8,261.6 469.0,270.6 447.8,268.0 449.0,267.2 516.6,270.6 535.5,256.1 547.8,268.9 555.7,264.1 466.2,274.6 472.8,268.7 453.1,267.7 502.8,267.6 560.4,269.5 533.3,264.4 487.5,255.2 447.7,266.3 545.5,266.4 553.2,268.2 534.8,249.5 466.8,254.9 480.8,261.8 508.4,260.8 556.3,270.4 459.7,266.5 485.0,264.0 433.6,264.6 425.4,271.4 459.8,270.9 540.7,262.0 521.6,263.3 493.2,280.6 483.6,264.8 462.9,257.1 534.5,269.9 494.7,263.8 435.0,275.7 514.7,260.0 567.0,273.3 435.4,274.2 567.6,267.6 439.2,250.5 469.0,269.7 564.6,274.3 564.0,262.4 451.4,263.9 528.0,254.6 512.6,274.3 481.9,276.6 537.1,267.6 515.8,262.9 457.2,263.0 495.1,258.3 526.5,275.9 513.9,271.2 502.6,266.3 530.5,259.9 444.3,262.3 431.1,268.4 429.7,272.6 513.7,259.6 487.1,259.2 544.5,248.6 563.9,266.6 441.0,254.8 479.2,273.9 485.0,269.2 503.1,270.2 555.1,268.6 510.8,271.6 468.6,269.2 519.8,265.8 472.1,268.6 504.4,261.1 439.1,266.0 505.7,265.4 493.4,255.8 517.3,263.3 506.0,264.4 506.9,265.5 530.4,265.0 444.1,261.6 532.5,271.0 514.2,257.9 523.5,255.2 482.1,257.9 437.2,268.8 556.9,276.6 543.3,268.5 564.6,264.4 490.8,260.0 551.5,266.7 549.6,267.5 503.6,255.5 553.8,270.1 541.5,258.4 439.7,259.5 444.1,274.8 483.3,263.6 501.2,269.3 518.3,272.1 505.7,278.5 550.3,276.4 539.5,262.7 439.7,268.1 473.5,263.6 552.0,272.9 533.0,267.6 427.2,267.3 514.6,276.3 443.1,277.1 497.0,262.5 567.2,264.4 435.8,272.0 542.8,266.1 494.2,261.1 565.0,253.6 547.9,271.6 434.3,261.4 517.0,251.9 548.0,264.9 464.9,255.8 525.8,284.7 461.4,256.0 454.4,265.4 472.5,278.7 466.9,260.3 562.6,258.6 458.6,257.5 485.7,257.6 494.5,265.6 523.8,270.7 563.7,268.6 512.8,265.6 548.1,262.7 443.8,268.8 519.6,265.0 449.7,259.7 549.6,263.2 510.2,250.9 444.5,251.7 546.6,273.5 500.1,269.4 494.4,274.6 436.6,273.6 554.7,261.8 498.5,272.4 548.6,272.8 435.8,267.3 522.2,260.2 478.7,267.9 501.7,267.9 514.3,259.4 543.1,262.3 557.0,262.4 448.8,259.2 547.9,272.5 441.7,264.0 426.5,269.9 468.1,258.7 465.7,260.1 535.3,272.8 505.1,256.7 480.5,273.6 538.1,257.7 558.8,264.0 516.7,271.5 518.4,273.3 548.2,267.5 466.9,265.5 567.4,270.4 450.2,261.7 431.5,275.3 542.7,265.4 449.9,265.4 473.0,278.7 498.4,263.3 440.9,274.3 485.6,284.0 475.6,269.7 437.3,267.0 511.2,259.5 489.5,268.8 447.8,255.8 537.7,256.0 483.6,258.2 428.7,256.7 550.8,263.1 483.5,269.3 438.1,261.1 466.3,259.1 461.5,263.8 431.3,267.1 472.3,276.5 449.1,261.0 455.5,263.1 521.4,274.6 447.6,264.7 428.1,260.6 450.5,266.2 467.3,260.3 448.6,260.4 510.4,275.9 550.8,267.5 543.8,262.2 492.3,259.4 537.3,256.2 538.0,279.1 515.8,265.9 539.8,260.7 479.1,257.4 532.0,254.4 499.7,272.0 530.6,268.0 530.7,272.9 434.4,260.0 544.2,274.8 430.2,257.6 486.1,259.2 509.5,262.2 542.8,281.2 433.2,270.2 521.0,260.5 474.3,275.5 430.9,267.1 472.5,266.1 516.6,259.5 436.8,263.5 546.3,263.6 431.1,268.5 459.2,265.3 472.1,266.3 434.2,260.6 557.3,266.7 563.2,258.6 554.4,277.5 453.4,257.5 544.1,266.6 473.3,258.0 466.3,264.8 523.7,259.8 437.2,255.6 425.8,269.3 558.1,264.8 475.6,266.6 538.7,264.0 485.9,276.9 438.3,266.6 492.9,267.2 449.4,271.0 436.6,266.8 427.7,276.4 482.3,256.2 462.0,262.5 473.0,253.2 562.5,271.6 543.6,273.7 525.9,263.5 459.9,277.3 532.2,263.9 524.8,270.4 500.5,267.8 459.2,263.7 454.7,265.1 485.0,253.4 464.5,261.3 551.5,274.6 491.6,259.0 521.9,274.9 553.3,264.8 513.8,274.3 448.0,271.3 470.7,256.8 556.9,269.4 431.6,270.0 456.7,269.4 513.4,267.6 547.2,256.0 542.3,273.8 529.5,274.2 525.4,261.6 478.4,276.8 433.8,268.0 515.9,258.0 435.4,265.4 539.2,268.9 443.8,270.5 428.5,272.0 567.9,269.7 448.9,264.5 508.2,257.3 433.8,259.1 565.3,269.5 427.4,270.7 523.4,260.9 545.6,278.5 467.4,268.6 426.1,267.8 430.3,273.4 433.7,272.6 532.9,263.2 500.6,277.3 553.2,272.0 515.4,270.1 510.0,265.0 453.9,275.3 457.0,258.4 564.9,267.7 561.2,267.4 487.6,268.1 538.7,270.4 528.0,272.5 464.7,258.0 453.6,264.2 532.1,266.4 562.7,259.1 565.7,270.7 476.1,261.5 434.4,265.5 470.6,271.9 435.0,260.6 566.2,276.2 468.9,261.3 546.2,271.9 460.2,262.9 562.3,256.6 494.9,261.9 544.2,269.9 510.7,265.9 534.5,268.3 435.4,274.0 437.5,273.5 476.1,265.4 550.5,262.2 555.0,278.3 526.6,266.2 510.6,262.4 432.0,265.0 557.7,272.8 519.4,258.9 513.1,274.4 545.4,261.5 458.8,255.3 513.6,280.5 522.7,264.0 533.1,263.7 438.5,264.3 529.1,271.2 554.1,268.0 514.9,275.7 449.3,264.9 556.4,262.2 439.6,270.5 457.9,272.4 547.2,269.2 509.2,265.9 473.0,265.4 539.9,266.6 517.6,265.3 441.9,275.1 458.2,285.9 540.9,261.8 541.0,256.5 435.6,275.9 499.6,270.5 527.0,263.8 471.5,259.6 434.0,261.6 484.7,257.5 558.7,266.2 529.4,263.1 455.5,263.1 545.8,268.9 520.5,258.0 466.5,261.8 463.4,259.5 450.3,268.6 482.9,259.1 476.5,273.3 465.8,263.3 549.9,285.5 533.8,273.0 495.5,261.0 562.7,269.0 521.3,264.7 561.1,277.3 542.9,255.8 515.7,262.0 524.2,266.1 535.8,263.1 533.3,263.7 549.9,256.7 473.6,264.4 477.0,276.3 460.3,267.7 556.8,257.5 554.2,262.1 488.2,268.8 482.4,261.9 444.0,265.1 564.5,261.9 521.1,277.1 562.8,272.2 515.4,261.5 498.5,267.5 532.1,263.5 551.8,253.3 545.8,268.1 474.5,264.3 497.5,269.8 560.1,270.3 497.4,266.4 539.7,276.1 500.1,281.1 544.0,257.0 434.8,266.6 425.2,258.6 438.0,265.0 487.3,264.9 477.5,261.5 562.1,261.2 567.6,274.3 444.2,258.0 544.3,272.7 497.8,264.5 545.3,249.9 477.8,265.3 535.5,255.0 425.7,268.3 491.9,261.8 472.6,265.5 461.0,263.1 468.0,271.9 484.9,272.3 495.9,263.6 500.1,276.9 530.0,271.8 543.2,261.7 562.5,270.2 520.7,272.1 461.7,273.7 507.8,264.9 487.7,268.4 458.6,264.8 472.5,267.2 457.8,254.0 502.1,268.9 434.5,279.8 502.7,265.1 483.9,265.9 425.9,264.8 464.4,277.2 563.8,258.5 507.9,266.1 434.3,266.2 507.6,277.0 525.7,262.8 444.3,266.3 482.6,257.1 455.6,268.8 502.6,274.5 542.6,265.0 459.3,272.3 444.9,263.1 444.9,273.5 512.9,266.8 434.9,267.5 500.3,266.1 540.8,269.5 534.6,271.6 520.8,266.3 426.6,269.9 486.7,264.8 459.8,267.8 498.7,282.2 446.7,266.3 444.3,256.9 561.0,263.9 550.9,262.0 439.0,262.9 543.4,269.1 434.4,275.2 473.5,260.6 567.1,259.0 559.5,262.2 491.9,263.1 525.4,263.3 479.7,266.1 546.4,264.1 470.2,265.8 454.5,263.7 445.7,272.5 515.2,270.3 504.8,262.2 554.1,268.2 446.0,283.5 540.0,265.0 560.0,282.4 531.8,253.7 441.4,261.2 446.9,261.5 437.6,270.5 472.7,273.7 533.5,267.3 445.7,265.7 489.2,271.2 431.3,264.8 522.0,261.4 439.1,262.0 538.4,273.0 512.6,281.2 452.2,265.8 524.9,270.4 474.9,262.9 499.9,255.3 504.6,255.3 463.8,263.9 484.6,258.7 537.4,255.3 548.6,265.5 546.4,264.0 506.3,260.3 549.8,266.0 445.1,269.2 565.7,271.0 431.4,265.7 553.6,270.1 538.2,260.7 480.8,268.1 538.0,256.5 561.9,258.1 448.5,274.3 517.9,258.9 425.6,268.5 520.0,257.0 433.8,262.5 520.5,266.1 428.8,261.4 482.7,269.6 548.9,263.6 468.8,263.2 563.6,266.7 492.4,263.2 451.0,272.6 558.9,262.1 447.2,274.0 509.9,261.7 559.8,262.7 559.5,261.2 504.5,269.5 455.3,247.8 496.6,267.2 466.8,264.7 469.9,270.8 470.4,256.6 453.9,268.9 430.5,259.3 532.4,272.1 426.8,263.6 507.0,268.1 477.5,259.7 518.0,267.6 508.0,271.5 493.5,262.7 536.2,273.7 506.8,272.1 553.5,260.7 508.7,278.4 550.3,260.8 548.6,268.3 526.1,271.8 472.1,264.0 494.6,261.5 436.3,269.5 528.7,266.7 517.4,260.5 542.0,260.8 437.1,265.9 443.4,270.8 517.4,271.9 529.7,269.6 435.5,261.2 429.4,261.8 471.4,263.5 473.5,256.7 432.4,267.5 439.0,268.0 454.2,268.1 427.0,253.6 446.1,279.5 428.7,263.6 477.9,262.6 532.1,265.0 519.6,251.2 511.4,258.1 491.9,260.6 451.8,271.5 431.9,262.3 451.5,267.9 560.4,265.1 541.4,264.1 506.5,268.6 512.7,261.4 531.6,255.2 542.5,258.9 459.5,264.0 539.7,278.5 517.7,258.5 464.8,258.6 466.1,266.6 449.5,268.5 503.3,261.2 563.5,270.8 537.9,260.3 448.8,272.6 442.1,271.5 465.3,265.2 448.5,275.1 445.4,265.3 529.6,261.9 470.0,274.2 505.9,259.5 470.1,269.1 565.8,261.8 509.7,263.9 445.0,268.3 536.2,268.8 466.4,276.8 490.1,269.9 466.1,270.4 495.0,255.0 469.0,258.9 470.9,274.5 447.5,260.2 562.3,263.8 454.7,267.8 465.4,262.3 483.7,260.3 441.9,269.1 457.8,267.1 483.3,264.2 508.5,271.9 501.7,264.1 477.7,265.8 521.7,269.8 531.6,270.9 462.9,263.3 459.3,259.8 514.4,263.1 483.8,271.0 543.7,260.5 426.4,264.1 502.4,261.5 474.9,258.0 455.4,271.3 549.1,266.1 456.0,269.2 537.8,271.1 547.1,253.0 563.3,259.4 441.6,277.1 447.3,262.5 437.0,268.9 470.8,258.1 554.7,264.7 517.0,266.4 447.1,264.3 440.1,262.8 532.2,265.0 514.1,266.7 425.3,266.1 509.0,262.0 452.2,272.8 467.0,265.2 439.4,266.0 566.8,268.4 490.3,260.6 513.2,273.9 454.2,267.6 478.6,270.9 517.5,261.8 531.8,268.3 554.7,264.9 460.4,262.8 459.3,275.9 482.6,262.4 469.1,270.2 542.2,266.9 478.1,265.9 478.4,260.2 496.9,260.6 505.6,254.3 475.5,264.1 426.3,268.4 530.2,268.5 441.4,261.1 547.2,255.3 460.3,263.1 461.6,269.0 501.6,263.5 554.8,263.6 479.4,265.0 493.7,270.2 484.3,283.0 441.0,268.8 466.2,258.7 556.1,263.8 559.3,280.2 461.5,265.1 556.6,277.6 427.3,253.1 527.8,264.0 428.7,273.3 485.9,260.2 484.0,270.4 487.2,261.7 559.6,265.0 475.4,273.1 427.6,261.1 440.8,274.2 532.1,256.9 443.4,264.8 433.4,272.1 452.9,277.4 564.8,255.2 488.6,256.2 446.2,273.6 519.2,255.0 479.0,264.1 504.1,266.7 567.4,265.7 525.0,267.0 501.5,256.3 567.8,264.2 497.3,277.6 489.8,252.5 546.6,259.7 562.0,272.5 527.9,267.6 477.2,271.2 482.6,264.9 426.3,262.7 459.3,263.7 536.1,269.2 494.9,270.5 547.5,259.9 520.8,265.8 506.0,251.6 540.2,270.6 496.2,260.3 520.4,264.9 495.0,270.3 475.4,256.7 534.4,264.4 435.2,271.2 564.7,267.3 562.4,258.9 543.7,273.4 491.9,256.6 489.3,260.9 482.5,267.0 490.7,256.8 456.7,254.4 539.3,261.5 551.0,264.1 496.6,253.8 547.0,255.9 466.7,271.4 547.9,266.6 564.2,266.6 520.9,267.9 562.7,275.3 528.8,259.6 524.2,264.6 492.6,264.6 433.6,256.4 442.9,269.0 543.4,265.5 451.0,263.5 523.2,268.1 447.9,265.9 533.0,260.4 561.7,265.2 513.4,256.9 430.6,270.2 530.4,263.9 493.0,274.8 548.8,266.0 446.3,269.9 465.1,256.7 556.4,260.5 544.7,262.0 555.0,253.8 499.5,256.2 521.4,260.7 558.4,269.8 519.4,275.0 437.5,265.4 447.1,267.6 425.4,269.5 440.9,267.1 428.9,276.4 480.0,255.9 513.2,272.9 548.1,269.7 483.4,261.6 448.0,276.2 555.0,259.4 556.1,259.3 564.8,267.3 428.4,272.5 509.5,268.4 515.2,277.8 501.4,256.5 451.9,264.8 556.7,270.2 501.7,271.3 430.3,261.6 474.5,255.8 529.0,273.8 454.0,269.1 536.0,277.2 455.0,260.9 486.9,264.2 466.8,251.4 443.3,266.0 551.4,268.1 473.7,270.0 532.5,259.8 552.4,276.3 465.4,260.5 425.8,263.6 500.1,268.6 458.7,271.3 550.0,258.6 448.6,253.6 528.2,268.2 428.7,261.8 463.8,254.3 453.1,269.4 546.9,266.9 510.7,273.5 519.3,266.2 436.8,265.7 469.1,268.0 552.6,270.2 512.7,276.0 533.3,274.4 496.8,271.8 454.4,261.1 555.7,268.6 462.7,271.0 449.3,261.0 517.8,261.6 437.3,270.3 534.3,269.4 526.8,261.0 479.8,262.9 498.7,270.9 494.6,263.6 435.7,265.4 436.4,258.2 475.4,271.1 425.9,259.6 451.5,262.4 477.3,272.1 514.7,258.5 498.7,259.4 449.8,274.2 533.6,252.9 538.6,273.0 519.8,271.5 523.4,267.4 461.2,260.3 544.9,261.5 508.7,265.8 450.4,256.5 522.9,262.6 514.7,256.3 506.3,248.3 492.4,263.9 534.7,283.8 529.4,268.3 509.2,272.6 434.6,264.6 458.2,264.5 565.0,273.6 482.6,273.1 515.5,267.0 443.8,266.5 506.7,284.1 512.1,259.0 534.0,265.0 563.6,265.2 490.2,263.3 469.7,272.3 447.8,265.5 472.8,258.5 488.4,258.3 562.9,262.2 498.1,267.1 521.5,270.9 529.9,256.7 427.0,261.8 458.3,268.1 502.3,280.6 433.2,271.2 446.5,278.7 532.6,257.2 521.4,264.0 444.8,270.4 441.9,267.1 545.6,249.1 492.6,257.3 470.2,274.6 527.8,266.1 520.7,273.8 567.2,277.3 439.8,264.0 534.9,250.1 490.8,255.1 460.5,264.9 496.3,267.8 427.9,263.9 442.8,258.5 440.6,275.5 524.0,278.4 526.3,253.1 459.9,263.3 468.9,254.7 535.5,263.6 480.4,255.6 474.8,269.5 560.2,261.9 502.8,255.1 502.0,258.5 512.3,268.4 430.9,259.3 482.1,269.9 537.8,275.3 518.1,261.7 552.3,256.0 469.4,259.6 493.0,274.1 458.6,259.5 451.5,260.7 438.0,268.4 453.4,283.7 448.4,258.5 487.8,259.4 483.8,261.9 534.3,277.5 536.3,275.8 502.3,258.5 518.9,259.9 492.0,261.9 469.4,266.9 497.0,262.6 515.2,269.0 561.5,267.4 541.8,271.4 434.5,263.5 516.5,268.2 438.0,258.9 514.0,260.4 546.4,271.0 525.0,253.3 442.1,273.2 485.6,262.2 452.9,258.0 519.5,256.7 526.6,281.4 530.4,258.6 476.0,257.1 510.5,255.7 454.8,281.6 558.0,270.0 559.2,265.9 429.3,268.4 505.6,256.3 527.7,270.0 458.0,257.1 429.7,261.5 425.3,275.6 526.1,272.3 426.8,268.5 480.3,264.5 539.2,258.6 432.5,266.5 526.1,259.2 486.7,276.5 480.7,267.6 494.2,262.1 475.3,267.8 548.2,272.4 520.8,262.4 480.4,252.6 442.2,265.9 497.1,270.4 567.9,271.3 552.5,252.4 434.7,265.5 475.9,261.1 492.2,257.1 483.0,258.0 441.0,271.8 451.6,258.8 501.5,259.6 528.1,261.9 527.4,258.5 521.1,269.2 521.3,265.7 426.2,268.9 456.2,260.1 473.1,269.9 461.6,262.6 480.5,273.0 482.1,266.0 473.6,267.8 426.5,266.0 548.7,264.3 561.8,266.5 513.0,266.7 464.0,280.3 489.4,257.8 555.4,269.7 510.8,266.9 524.6,271.1 525.1,258.6 565.3,271.7 518.7,261.8 440.5,257.4 497.3,254.3 556.9,257.3 443.5,261.1 432.3,273.8 432.2,256.6 435.0,257.3 448.4,259.6 535.2,259.8 510.7,264.6 529.6,268.8 504.6,258.0 475.6,256.7 537.5,272.6 449.3,259.1 476.5,263.5 484.4,259.3 522.3,263.3 533.8,257.8 506.0,258.3 511.9,259.2 465.2,275.0 509.8,259.7 545.6,264.8 487.8,273.2 532.5,260.4 497.7,274.9 498.3,259.2 511.9,254.0 445.0,268.7 455.8,259.0 450.1,262.1 501.5,260.8 520.7,274.7 526.2,261.0 454.8,264.2 472.7,260.2 445.9,265.0 518.5,257.8 485.1,263.2 464.0,260.6 457.2,256.0 560.7,263.8 493.9,258.5 566.7,263.5 470.9,261.6 455.8,268.7 527.4,259.9 555.4,256.9 448.4,265.5 548.3,259.8 509.0,262.2 554.3,272.8 560.3,262.7 486.0,256.3 559.6,268.4 450.8,277.6 488.5,263.6 488.4,269.5 460.1,252.8 494.2,265.2 532.6,265.0 440.5,269.4 493.8,263.3 500.1,268.9 453.1,271.3 516.8,265.4 461.1,270.7 506.6,256.4 506.8,273.2 532.1,265.4 558.7,269.8 557.4,274.7 496.8,254.2 462.6,279.9 459.6,255.5 537.5,274.9 533.7,264.3 538.5,250.7 544.2,280.1 505.8,274.6 553.3,256.4 519.0,263.8 515.3,268.8 544.7,265.1 518.2,271.7 534.8,264.1 558.0,255.2 481.5,267.6 532.4,264.0 467.7,257.1 494.6,252.3 549.9,269.1 564.2,263.0 560.5,268.9 533.3,269.5 546.3,267.7 551.5,269.4 512.2,277.1 459.8,279.0 427.5,270.1 533.8,264.1 533.7,257.1 529.5,268.6 508.0,266.1 519.1,260.6 527.7,260.1 501.0,265.7 519.2,265.3 457.1,253.0 501.4,267.3 514.9,268.4 506.3,276.4 461.8,262.1 443.1,266.8 518.6,252.8 441.1,267.3 538.6,259.7 451.0,258.9 535.4,254.3 475.9,274.1 553.9,254.8 457.3,264.8 447.5,265.6 521.5,267.1 535.6,267.7 475.0,267.3 492.5,281.9 519.6,261.6 467.2,264.5 480.6,271.6 505.9,265.4 468.3,250.5 445.9,262.5 554.9,267.6 442.5,254.0 566.1,270.5 545.8,266.0 488.9,268.8 548.1,266.6 434.2,260.2 505.4,261.2 475.6,270.1 468.0,265.8 553.0,264.4 430.5,267.8 548.3,265.2 436.3,270.0 521.9,270.1 465.8,264.7 500.3,272.2 557.3,262.2 539.0,266.3 439.2,271.4 468.6,269.2 494.8,268.3 527.5,266.1 425.8,264.2 548.5,266.4 545.4,271.0 561.7,255.7 454.0,259.1 455.5,264.2 544.1,258.8 498.6,262.9 460.1,266.8 427.4,264.4 456.0,248.6 521.5,258.6 529.8,258.3 475.7,267.7 556.2,261.1 497.9,250.9 499.0,262.2 481.4,258.1 482.7,256.9 476.3,260.8 542.9,254.8 487.9,263.5 458.1,261.8 487.2,269.3 557.4,248.7 516.4,263.0 440.0,264.3 484.9,256.1 491.7,268.4 427.0,265.0 562.5,270.4 556.0,264.8 439.5,267.7 504.0,261.5 469.7,265.8 455.3,269.1 464.2,267.0 432.7,265.8 523.4,268.5 477.4,259.0 525.1,260.7 541.6,264.0 506.9,273.3 474.1,261.7 445.0,273.9 518.2,263.8 521.5,264.7 536.7,269.1 444.7,270.7 431.6,269.8 550.7,252.1 511.7,266.8 438.5,266.4 526.4,258.8 433.0,262.3 515.4,258.2 504.3,273.5 527.3,272.5 438.4,265.3 554.9,267.0 559.5,264.0 565.8,258.7 534.5,273.2 469.6,263.2 564.9,265.2 512.8,260.7 527.7,263.9 519.6,268.7 454.6,271.0 547.0,282.5 517.5,258.7 456.6,275.2 479.1,267.8 445.5,254.4 486.9,267.9 566.5,261.1 479.9,266.4 481.5,260.5 539.8,264.8 436.8,268.5 442.1,256.4 531.6,266.8 443.6,274.3 512.4,267.3 541.8,261.6 505.5,272.7 436.5,260.0 454.5,260.1 502.3,251.8 561.4,269.4 518.5,260.8 524.7,276.5 510.1,267.9 471.6,264.3 511.9,262.4 426.4,265.4 484.2,265.6 541.1,269.2 454.2,268.1 517.7,263.0 528.0,261.4 447.4,260.9 547.7,258.7 459.9,257.4 562.7,277.5 474.3,268.6 512.5,266.1 560.7,269.4 542.3,258.3 494.5,260.2 452.8,265.7 512.9,264.2 509.1,257.0 434.1,267.4 479.7,267.2 556.7,259.2 500.2,262.0 450.9,256.0 517.1,262.6 489.9,260.2 555.7,268.7 495.1,271.5 428.7,265.1 448.1,284.3 450.1,262.4 561.0,258.8 476.4,264.5 474.9,266.5 564.6,258.1 454.5,265.3 513.9,258.8 560.5,251.5 555.1,260.4 447.9,259.0 492.4,261.9 461.0,263.4 525.1,263.2 460.2,264.6 450.3,258.1 463.9,276.1 443.7,266.8 527.4,260.8 465.0,270.8 482.2,265.7 464.4,269.8 479.4,262.2 468.7,259.5 475.5,255.8 526.4,261.8 449.9,269.9 523.2,263.4 474.7,261.4 438.4,256.1 442.1,279.9 553.8,262.6 431.0,277.6 464.5,260.5 548.5,262.2 436.4,261.8 455.2,259.4 463.4,262.6 544.5,269.4 441.6,262.8 560.2,257.4 442.1,265.8 505.9,264.8 535.6,273.3 504.9,257.7 497.6,268.4 487.6,270.1 461.1,268.0 566.9,270.9 482.7,266.7 516.5,256.9 508.3,260.0 562.5,256.0 459.9,255.6 447.2,271.1 553.6,262.0 497.8,255.5 516.7,250.9 514.4,274.7 536.9,274.8 544.8,262.0 525.3,267.3 425.7,271.8 544.7,262.6 431.1,270.4 547.6,280.9 425.2,265.1 535.7,264.2 516.3,261.0 428.7,259.1 532.8,263.9 507.9,266.6 442.3,269.6 550.4,276.3 509.5,268.0 491.2,258.7 560.2,260.9 454.0,252.3 450.2,266.0 552.6,277.3 447.9,259.8 541.9,258.5 455.0,273.0 541.4,276.1 483.4,264.1 513.3,260.5 511.8,272.7 481.4,267.3 499.1,270.3 517.9,273.1 444.5,274.1 556.0,264.1 542.7,267.6 454.8,269.6 457.2,283.9 481.4,254.1 535.3,271.5 498.9,266.0 470.0,272.9 534.9,262.7 453.0,275.4 526.3,264.5 532.8,266.3 439.6,259.3 506.5,272.6 509.9,269.5 563.9,266.7 467.7,252.1 490.8,275.2 558.8,263.2 443.7,269.6 553.3,263.1 477.3,260.9 474.1,264.2 567.3,263.4 480.8,263.3 460.4,269.1 454.7,266.6 524.5,276.5 515.9,267.5 459.2,270.4 495.8,266.8 466.0,260.4 544.7,262.7 476.2,262.1 513.0,258.1 555.6,282.0 459.1,262.4 561.2,265.3 494.4,265.8 516.6,274.1 463.9,261.6 524.3,257.9 528.5,258.6 509.7,265.7 548.3,261.1 492.4,259.3 427.1,253.7 555.6,257.4 506.2,264.2 512.9,264.5 510.6,264.1 430.9,263.7 466.1,268.5 437.8,260.3 517.9,269.9 547.2,270.6 519.5,262.9 541.3,269.1 472.6,266.8 429.5,279.5 483.6,260.1 449.1,265.2 468.6,266.0 459.2,262.2 450.8,263.8 523.3,269.9 510.5,252.7 542.7,268.2 565.7,259.0 459.0,253.7 559.1,269.4 534.8,264.5 505.5,270.8 564.1,258.5 498.3,267.4 429.0,272.7 442.9,256.8 469.7,259.3 524.6,271.2 506.0,257.7 522.7,263.9 427.7,248.7 460.5,254.4 504.3,269.0 518.6,267.0 486.8,271.2 456.2,264.3 469.3,264.9 533.8,260.5 527.6,264.6 460.4,275.3 560.9,270.7 431.3,256.2 458.5,257.9 487.7,266.3 540.0,266.1 505.8,266.3 521.6,265.0 561.0,276.7 477.5,259.5 450.9,269.7 483.6,264.2 505.6,283.3 444.2,263.7 430.5,256.7 528.8,280.9 566.4,255.6 558.2,262.2 478.8,270.2 489.9,276.1 543.5,257.8 565.8,263.5 475.9,261.4 561.1,267.0 524.9,270.6 446.1,259.7 489.4,271.7 425.4,259.5 483.3,276.7 499.8,271.5 539.1,275.1 472.3,256.9 517.9,277.2 519.8,273.0 499.9,261.0 512.7,263.7 490.8,251.7 512.3,253.7 490.9,261.3 555.4,260.8 441.2,277.8 548.5,271.2 531.5,267.4 426.6,266.4 527.8,274.6 476.9,271.6 497.5,271.0 499.0,258.4 530.1,262.5 494.6,267.4 515.9,267.1 456.4,263.3 435.1,270.0 520.6,267.0 566.4,277.0 436.1,260.9 555.2,259.1 480.0,262.9 518.4,262.1 463.0,262.9 523.9,252.5 487.3,263.9 538.7,274.3 464.6,272.4 472.6,260.7 514.4,258.4 440.1,260.3 564.5,259.8 511.8,264.0 564.0,275.4 450.5,270.1 526.4,277.7 453.8,267.8 436.9,274.6 488.3,264.6 492.4,266.4 504.8,278.7 491.7,260.5 453.0,260.4 522.5,274.8 463.0,264.3 466.5,260.6 536.7,267.2 522.5,259.8 529.0,264.0 556.8,258.4 546.9,264.0 456.4,266.3 564.6,262.0 499.4,260.2 504.9,263.6 464.8,268.3 480.4,270.7 504.7,267.8 429.8,269.2 528.0,263.9 474.9,264.2 524.0,265.8 529.7,265.3 513.4,264.1 435.7,255.3 505.5,257.6 475.7,269.2 527.2,262.6 526.7,267.5 496.9,265.9 529.6,267.0 445.5,269.6 541.7,274.7 563.6,283.1 553.8,264.0 541.1,257.7 482.9,271.6 558.4,262.0 505.4,268.0 455.8,263.5 502.6,270.9 546.7,266.9 522.0,266.1 544.1,282.4 430.0,263.9 563.7,266.2 556.9,283.3 496.9,261.1 557.0,265.5 451.0,264.0 477.2,263.0 449.2,268.2 520.8,272.8 556.2,268.4 558.2,268.3 436.4,251.5 534.9,253.7 504.9,268.7 456.6,268.2 553.0,263.3 500.6,261.7 431.0,270.2 478.8,272.3 522.6,253.1 546.7,258.6 453.5,276.2 509.6,277.7 437.4,271.1 555.4,263.9 426.4,261.8 563.8,267.7 505.8,276.6 532.5,263.9 520.7,261.5 497.3,265.4 487.7,268.8 454.7,261.7 466.0,265.8 438.5,273.2 463.4,264.7 518.5,274.4 503.9,259.2 506.2,262.3 500.6,272.3 560.2,264.0 546.6,257.3 462.8,280.7 504.6,266.4 563.5,254.8 463.3,276.2 525.3,266.6 517.6,275.4 520.7,265.9 504.6,282.9 530.9,276.8 478.7,269.2 559.0,264.5 506.1,262.9 473.4,262.6 516.4,257.9 523.0,260.9 556.5,260.6 515.9,272.3 499.7,266.5 475.5,251.1 485.9,260.0 466.0,260.6 513.7,259.0 548.2,268.2 509.8,252.9 454.0,268.0 430.2,266.0 550.6,251.6 467.2,280.3 523.5,263.0 560.2,277.6 559.4,270.0 504.3,266.0 555.6,267.9 482.6,264.2 559.5,270.8 522.1,266.1 436.5,273.8 541.1,268.1 448.0,275.2 567.6,261.1 432.1,274.5 533.3,260.8 446.8,268.3 502.2,267.5 478.2,257.7 550.2,264.7 464.2,278.9 528.0,262.1 559.5,286.3 434.2,263.6 527.1,268.2 437.0,275.3 536.4,264.8 547.5,267.6 444.9,252.5 551.4,268.5 487.7,252.9 469.1,256.3 563.1,269.7 479.9,271.2 455.0,256.7 472.2,266.3 554.4,264.3 565.7,267.2 490.1,274.0 495.6,268.0 510.5,272.2 545.1,276.3 426.3,267.5 538.8,253.8 564.1,254.8 524.9,280.6 509.9,273.4 495.0,275.3 476.7,263.5 503.9,257.7 496.0,272.6 542.2,260.8 487.0,267.2 507.3,257.2 536.9,255.7 515.6,263.0 532.4,260.2 541.9,265.2 472.9,268.0 507.4,273.9 492.2,262.9 556.0,265.7 515.5,268.0 532.5,265.7 565.7,266.5 508.9,273.0 520.8,269.1 530.0,257.2 511.4,266.9 553.4,255.5 541.3,273.8 546.4,275.3 520.1,264.3 509.3,259.8 509.0,270.1 508.7,260.8 473.5,258.7 528.7,257.7 541.1,266.0 518.5,265.5 505.1,277.6 519.7,265.0 524.9,263.2 527.7,255.4 568.2,274.7 495.2,271.5 528.7,272.7 537.7,258.9 520.9,285.3 512.3,273.3 490.6,251.2 502.4,260.6 538.1,275.1 558.6,265.6 500.7,259.3 531.6,261.3 532.9,266.8 546.3,271.1 525.4,259.4 530.8,265.2 543.2,259.5 486.8,262.4 520.0,268.6 470.4,255.2 464.7,268.9 496.1,262.2 476.5,269.9 532.5,266.9 545.8,267.0 510.3,270.1 514.9,263.5 512.3,256.1 511.5,252.5 522.3,255.2 528.2,266.4 506.0,255.1 497.2,262.2 504.4,252.9 540.5,274.6 507.1,254.9 558.2,269.6 512.0,257.2 555.9,268.6 486.1,258.8 499.7,267.2 531.6,279.3 531.9,272.4 514.3,266.9 574.1,265.0 520.5,282.5 526.5,274.1 503.1,270.6 563.7,266.7 541.9,263.6 529.8,271.3 474.0,276.5 528.4,263.1 505.9,267.6 529.2,259.0 543.4,269.1 498.2,260.7 524.5,271.8 542.4,263.3 523.0,264.5 509.6,262.0 489.8,272.1 500.4,266.0 484.1,271.5 545.3,266.3 521.4,260.9 485.5,264.9 518.4,260.2 483.5,264.4 429.4,257.3 551.3,262.0 550.3,257.9 478.5,262.7 499.0,249.2 524.1,255.7 508.1,277.9 495.3,263.1 504.6,264.6 512.0,282.1 503.5,271.6 524.2,268.6 512.2,270.6 497.9,264.2 519.1,278.6 473.5,260.0 557.6,259.8 471.4,262.7 516.2,267.6 527.6,265.1 529.7,268.6 525.5,257.2 552.6,261.6 488.0,251.7 516.5,267.8 522.4,255.1 505.0,269.4 502.4,266.4 553.2,272.9 499.1,261.5 505.5,265.5 510.9,260.8 512.6,254.9 522.8,265.5 512.8,262.5 528.5,258.9 522.0,265.5 531.3,269.2 555.3,262.6 495.5,261.6 562.9,259.7 506.2,259.4 536.3,270.1 522.7,262.0 510.3,256.7 465.4,268.5 561.8,262.6 497.9,269.7 497.1,263.9 546.9,253.3 520.3,263.9 569.5,272.3 563.6,262.7 537.4,263.6 525.1,257.4 538.8,275.3 482.8,271.9 522.9,265.7 522.2,276.7 505.6,257.3 525.1,280.3 478.9,271.3 542.5,276.1 552.9,270.0 483.4,259.6 522.1,261.0 559.8,258.7 529.5,261.0 490.5,280.4 491.7,263.0 541.1,278.9 567.5,268.8 489.0,268.0 519.2,269.1 497.4,261.7 510.6,271.1 526.5,253.4 517.1,261.0 499.8,257.0 574.7,259.9 513.9,259.0 513.3,265.4 547.9,251.9 518.5,272.9 512.7,261.9 543.6,265.1 490.4,266.7 538.2,262.9 545.8,270.7 535.9,259.1 513.4,259.7 518.0,264.4 472.2,260.0 514.7,272.8 525.9,278.6 541.4,269.4 522.0,266.8 507.7,248.7 495.7,266.8 516.9,258.0 521.8,259.3 550.5,251.0 518.4,264.3 504.8,260.6 515.3,266.5 505.2,271.5 511.9,272.6 459.1,270.9 475.6,255.3 486.2,263.1 530.6,266.2 516.0,265.0 522.1,269.3 549.2,265.3 490.3,265.4 548.7,260.6 528.4,258.8 499.0,277.3 557.9,263.5 480.0,255.7 488.0,272.7 512.6,266.9 528.9,263.9 513.0,257.5 461.1,261.0 510.1,266.7 515.9,261.6 586.0,258.0 554.8,262.4 521.4,252.6 489.0,262.2 527.2,272.9 487.0,270.9 523.5,266.1 527.9,266.6 507.4,260.8 524.7,262.6 509.3,253.4 502.9,259.5 559.0,254.9 533.6,270.7 509.9,268.2 497.6,260.4 522.8,264.4 533.2,260.8 540.8,263.3 557.4,269.7 530.4,253.5 488.2,257.2 572.2,276.6 549.0,269.6 540.2,264.9 553.7,260.4 478.4,265.6 508.1,275.2 504.4,259.4 549.7,266.6 486.6,256.8 509.5,263.0 558.5,258.2 535.3,259.3 507.8,259.0 568.1,268.8 482.6,258.0 530.1,263.6 512.0,274.3 531.6,267.9 510.7,267.5 495.7,261.8 523.7,260.3 482.9,273.3 532.1,260.0 509.5,265.5 542.5,272.8 506.1,259.3 500.1,270.6 528.6,273.8 550.8,259.8 462.8,258.8 521.1,269.9 534.6,257.8 480.1,258.1 494.5,268.8 535.1,251.7 495.9,265.4 501.0,263.4 563.7,283.4 492.8,260.6 495.0,269.5 456.3,262.0 488.8,277.7 485.2,257.1 563.6,255.0 550.3,252.3 484.3,287.1 570.2,260.9 538.4,262.6 513.1,270.3 539.4,265.5 528.0,255.2 497.5,271.1 471.1,263.5 493.7,265.3 517.7,262.4 508.4,267.8 498.2,258.8 543.8,258.3 489.5,275.0 541.6,257.2 505.0,270.4 520.8,266.9 488.0,257.2 517.6,264.2 497.0,260.9 471.4,259.5 517.3,260.8 516.5,268.8 539.9,271.9 525.4,260.2 490.8,259.7 501.5,262.4 451.7,266.2 488.0,259.0 552.4,265.0 558.2,274.9 538.1,262.9 525.9,261.4 533.5,259.5 530.8,271.4 471.6,270.3 494.6,262.5 549.4,268.1 549.2,265.2 524.2,258.4 509.5,262.1 507.5,252.6 503.3,262.8 493.1,253.2 466.5,257.5 521.8,248.2 505.7,264.6 512.1,265.3 563.5,255.8 533.6,268.5 499.1,268.1 533.3,263.0 477.7,262.1 545.8,275.0 524.8,262.9 512.6,266.9 533.0,264.8 556.6,263.4 505.4,266.0 491.4,257.3 574.2,261.3 518.2,265.9 557.6,264.0 499.7,257.5 527.9,259.2 500.7,255.9 534.7,265.5 510.4,263.6 499.9,251.2 559.2,264.8 526.8,253.2 463.5,258.8 511.5,267.6 493.2,274.7 485.2,260.2 502.1,269.6 505.0,269.6 518.6,277.2 496.5,256.4 467.9,263.8 503.4,264.3 541.2,261.8 481.2,262.8 534.3,263.8 530.0,260.9 505.7,266.4 526.0,284.3 497.6,259.4 507.0,261.5 490.4,264.3 530.2,253.7 554.4,274.7 499.5,286.5 549.8,254.3 460.5,261.6 494.0,276.5 490.6,267.4 563.8,260.2 501.8,273.3 538.6,260.7 462.7,250.5 520.7,255.0 532.9,264.6 516.7,262.2 444.6,271.4 522.4,263.5 539.4,266.8 553.1,271.7 528.4,274.3 472.3,251.6 512.0,263.8 541.9,271.9 495.7,267.5 532.8,254.4 504.8,253.5 520.1,268.9 538.0,263.1 498.6,258.4 521.7,266.9 526.9,273.0 497.7,271.6 519.3,264.4 510.4,270.1 478.3,273.9 476.4,266.1 525.4,258.1 515.3,259.8 446.8,266.1 459.8,251.8 509.3,270.2 515.8,264.9 534.0,274.4 484.2,259.2 533.6,265.3 509.3,276.8 503.9,270.5 513.8,252.5 544.2,259.5 532.7,263.7 541.6,258.6 499.1,276.2 510.0,270.5 486.2,274.2 502.7,270.5 506.9,267.2 505.1,260.9 536.9,257.6 529.1,257.8 538.1,247.5 521.1,268.1 546.6,264.6 520.7,261.0 543.7,270.5 531.2,266.5 537.5,261.7 515.8,270.9 484.2,261.3 478.6,256.2 570.5,272.7 528.1,281.7 529.6,263.9 513.1,272.1 505.2,263.3 487.4,267.8 515.9,262.4 516.2,256.8 487.1,259.0 483.3,267.1 498.6,273.1 508.3,283.6 504.5,280.8 539.6,270.4 485.8,263.9 528.6,269.5 557.3,268.9 541.7,276.3 486.9,276.8 437.9,277.3 540.5,260.5 531.0,279.3 501.8,260.1 552.2,271.4 506.7,261.1 520.5,263.2 489.6,259.7 526.2,256.8 506.0,270.6 504.0,272.0 546.8,268.1 523.4,270.6 477.3,260.5 536.3,265.8 540.2,264.9 495.2,262.2 507.0,268.5 519.1,257.6 510.9,278.7 521.0,263.5 535.2,261.7 504.4,270.7 573.8,270.2 498.4,258.9 503.1,267.4 570.8,279.4 582.0,275.1 518.6,258.3 512.6,271.6 488.7,256.2 548.5,255.8 522.3,266.6 494.8,261.4 528.6,271.2 554.6,268.1 536.1,270.3 577.3,261.1 548.9,274.6 529.5,266.1 516.7,264.8 532.5,261.6 550.5,281.1 540.8,278.4 546.1,271.7 523.6,266.8 538.3,264.2 550.4,263.9 513.2,251.8 482.6,260.7 564.2,261.2 533.4,268.8 505.8,259.9 524.0,260.5 511.0,260.6 471.6,266.0 512.7,261.0 479.2,254.9 523.1,271.1 514.7,281.6 548.2,259.6 514.4,260.2 527.7,266.9 509.6,268.5 507.4,247.6 479.9,268.7 544.4,274.2 522.2,268.8 501.9,261.8 523.3,269.8 506.4,268.1 498.1,263.2 524.4,268.4 550.4,264.4 510.4,265.6 479.2,273.1 501.0,264.8 566.2,273.8 495.7,258.9 549.7,272.1 511.2,267.0 537.6,278.7 514.8,268.6 475.0,274.5 506.5,255.1 574.7,266.2 514.1,261.7 532.9,278.2 508.6,274.4 514.1,266.5 526.3,275.3 530.4,257.5 577.6,268.3 517.2,264.3 512.8,263.2 499.8,266.4 482.2,260.0 474.2,270.3 535.6,262.8 467.4,257.2 555.6,263.9 540.9,264.5 509.7,267.8 486.5,264.9 518.4,260.7 518.3,267.1 548.1,277.7 497.7,264.2 507.5,266.4 516.3,262.1 510.2,265.0 500.9,254.7 471.4,274.1 473.4,272.4 499.5,260.9 511.6,272.9 544.7,263.1 580.1,265.4 564.0,279.8 528.4,260.8 568.4,256.1 514.6,263.9 503.5,275.6 580.2,260.0 488.9,273.0 506.5,266.2 510.6,262.5 557.1,271.0 501.7,277.8 538.8,266.4 506.7,265.7 484.7,271.6 524.1,271.1 522.3,260.4 486.5,266.0 494.4,268.8 496.3,269.7 543.8,264.2 530.2,264.7 524.2,266.6 531.0,275.5 504.9,268.1 530.6,269.9 501.4,264.9 481.8,257.6 498.8,259.0 523.5,261.1 520.2,264.6 546.3,267.7 472.2,263.1 511.9,268.8 528.4,267.9 491.8,271.5 524.5,265.8 506.8,265.9 487.3,253.2 548.1,261.7 480.3,268.1 544.8,260.2 506.6,268.8 492.4,258.6 493.9,260.2 497.9,247.4 494.9,273.2 525.1,265.9 467.4,266.2 551.3,263.4 540.4,260.6 555.3,272.4 491.3,270.6 455.3,263.4 501.0,258.9 513.3,273.5 526.0,276.6 503.9,257.8 515.6,259.8 521.9,258.2 476.1,272.4 566.6,266.8 487.6,263.9 525.0,262.5 547.0,266.3 496.8,265.7 518.0,258.7 562.0,268.5 510.3,269.3 546.1,268.5 525.8,269.1 524.1,264.5 537.3,266.9 511.7,268.5 512.3,256.0 543.9,263.4 525.0,267.8 531.4,257.1 485.7,269.3 518.4,265.4 550.7,266.1 542.3,269.5 527.3,268.1 504.0,264.8 501.5,275.6 529.8,268.2 556.3,263.7 519.2,263.6 553.2,263.4 509.9,250.5 550.4,261.0 491.1,266.4 523.1,266.3 489.2,265.4 535.8,262.5 533.5,267.5 492.4,255.5 498.0,273.2 506.1,261.2 477.9,262.1 493.1,273.5 494.7,261.3 539.1,261.7 555.4,269.9 506.1,250.7 510.3,260.7 523.8,267.7 504.0,268.8 510.5,270.7 540.6,263.7 524.2,265.0 515.7,275.4 502.6,272.8 557.7,270.5 501.5,268.3 521.3,268.0 490.2,270.1 502.0,261.2 520.6,259.2 507.4,264.9 532.4,281.3 519.9,266.5 480.7,261.7 455.8,266.0 544.9,263.6 502.3,264.7 557.9,276.0 518.4,284.2 497.4,261.4 533.1,269.1 510.7,262.7 518.4,267.6 493.0,266.6 535.2,256.5 547.6,273.9 503.8,265.5 566.1,273.1 502.7,264.9 524.7,262.3 473.9,261.2 466.1,264.4 574.7,275.2 556.4,263.8 549.0,259.6 472.2,258.9 524.1,251.8 529.3,261.8 520.1,272.6 526.0,269.1 493.2,264.8 513.7,258.6 487.3,273.5 508.6,259.5 528.0,261.2 496.9,271.6 510.5,261.5 506.3,270.8 518.4,265.5 542.8,267.6 524.3,263.9 528.6,273.7 479.1,262.0 508.2,281.0 540.0,268.3 494.7,269.4 506.2,255.2 491.8,261.9 553.9,268.9 505.7,271.7 498.3,265.2 534.6,269.9 547.6,251.3 531.2,286.1 544.4,265.0 523.6,283.5 514.4,258.7 506.0,271.1 504.2,255.0 501.8,269.3 527.8,258.4 514.8,264.1 520.2,257.7 534.2,265.3 516.4,286.8 480.9,270.5 496.5,276.4 487.7,259.3 466.4,261.9 520.7,265.4 485.5,262.4 483.2,264.1 488.8,269.4 541.4,252.9 509.4,263.8 544.8,266.8 515.4,275.8 506.1,269.8 533.1,265.3 533.9,266.7 520.9,268.8 489.8,265.8 505.5,273.3 485.9,265.4 510.8,276.3 520.3,271.5 557.8,270.6 555.9,259.8 536.0,262.2 543.5,264.9 524.0,273.5 559.0,268.2 589.1,260.2 528.0,257.3 528.9,275.8 546.1,268.5 522.8,264.7 526.1,263.1 491.1,265.3 543.1,261.0 521.4,275.6 539.5,255.3 511.7,273.5 469.8,265.0 531.2,262.0 549.1,257.8 483.1,259.5 491.5,259.7 509.5,257.1 511.0,266.5 471.8,260.5 565.1,255.3 544.9,270.7 501.0,275.3 468.7,272.5 527.4,256.2 571.2,257.3 540.0,267.9 548.8,263.7 492.2,262.2 523.9,258.5 477.1,278.7 571.1,269.3 533.0,267.2 460.8,263.2 467.7,264.8 530.6,267.6 521.3,263.4 509.2,284.5 534.2,259.9 571.8,259.5 527.5,270.0 468.9,262.6 513.3,252.2 482.2,253.5 495.9,264.8 526.4,274.1 513.0,264.2 488.8,267.4 516.8,259.7 495.5,274.4 531.8,266.6 510.9,263.5 528.0,268.6 510.2,258.4 537.7,273.3 513.8,274.0 517.1,267.8 502.2,259.8 521.3,267.4 469.5,269.5 589.4,260.0 499.0,263.8 520.0,269.0 504.6,264.4 504.2,267.0 528.2,261.3 503.6,264.3 505.8,270.9 480.1,268.7 492.4,268.2 485.7,262.8 565.9,262.8 481.3,271.2 488.3,266.6 522.5,263.2 555.8,258.1 471.5,263.6 475.4,252.7 520.6,265.1 526.4,260.4 479.0,267.6 468.6,272.3 491.3,264.6 537.4,262.1 516.0,263.1 537.3,264.3 514.3,267.6 516.3,271.1 533.7,267.4 514.0,262.2 523.5,259.0 492.5,261.3 500.9,258.2 529.8,257.0 510.6,262.8 496.9,260.9 534.9,268.4 531.9,265.9 516.9,261.8 496.6,273.1 541.3,270.9 584.5,264.0 494.9,274.8 475.5,264.9 496.0,275.8 491.9,264.0 482.9,265.1 485.1,269.3 539.9,272.0 540.2,268.9 557.0,281.6 537.2,268.1 504.1,264.5 546.3,257.4 500.5,268.9 507.6,266.5 485.3,256.2 550.1,254.0 544.3,268.7 504.5,258.4 508.6,257.6 517.9,261.9 522.4,272.3 539.7,272.0 518.7,261.5 527.7,250.4 476.4,266.6 508.8,255.0 468.5,253.0 565.0,274.2 554.6,269.5 536.2,255.4 546.9,258.9 571.0,261.7 542.2,265.4 473.9,261.1 511.3,269.8 453.3,249.4 494.9,273.5 483.3,278.1 516.6,264.3 527.3,255.8 491.8,268.8 509.2,265.7 524.3,272.6 512.5,265.8 511.9,272.5 451.9,272.4 504.8,275.8 538.1,269.2 523.7,253.2 476.7,265.7 509.4,264.0 523.9,251.0 490.4,269.8 534.9,272.4 495.0,261.8 507.7,274.1 513.7,263.1 576.8,257.7 508.0,273.0 501.2,269.0 536.0,254.2 503.9,272.8 521.9,270.1 455.8,263.7 524.7,267.5 516.1,271.4 481.8,254.8 553.3,269.4 510.2,263.1 511.3,268.2 481.2,266.9 472.7,275.1 501.3,259.2 475.5,268.4 529.9,256.9 540.1,273.6 499.5,268.7 473.2,262.1 506.0,264.5 488.0,270.0 521.1,266.3 521.4,274.6 505.1,264.9 518.6,285.3 544.7,264.1 562.6,256.4 502.5,259.4 536.1,259.7 510.1,268.3 488.0,262.0 551.2,268.2 527.1,265.9 520.3,266.0 526.1,259.2 512.1,262.3 488.1,259.7 564.5,272.1 540.8,260.7 523.6,262.1 542.6,281.7 551.2,277.9 511.1,264.9 532.4,270.0 507.8,265.4 533.9,269.9 509.6,255.4 582.2,278.9 506.9,275.0 530.4,272.3 529.0,275.1 507.5,269.4 541.8,265.5 514.3,274.9 505.4,262.9 516.5,256.6 496.2,258.1 548.8,252.3 533.4,257.8 543.0,265.5 480.0,253.6 523.8,260.6 495.7,253.1 518.8,266.6 550.9,280.5 523.4,273.6 511.8,264.1 546.7,261.6 543.8,266.7 566.4,258.6 466.3,273.5 525.3,270.3 505.3,258.7 492.9,264.9 519.6,264.6 485.1,255.9 456.2,258.0 492.1,270.9 509.5,263.9 566.9,277.4 497.0,265.3 485.0,262.6 463.1,277.6 507.0,254.9 510.0,252.3 520.5,261.9 477.5,259.1 495.9,255.3 455.3,266.4 521.1,258.3 474.1,262.6 442.4,276.1 547.8,271.6 530.2,269.2 526.0,258.1 526.0,264.5 488.6,258.6 545.5,268.5 488.2,274.3 568.1,251.8 522.6,248.0 466.7,262.6 540.0,266.5 569.8,257.3 509.7,273.1 545.3,266.6 510.8,275.4 499.6,261.9 446.8,263.5 549.9,268.0 504.5,269.8 526.8,276.0 485.9,271.0 492.0,257.0 546.7,267.6 506.1,256.8 505.7,271.3 482.5,265.7 522.2,268.4 537.6,267.0 504.1,260.1 511.5,279.9 483.6,260.3 554.5,260.6 499.9,265.1 512.4,264.6 562.1,266.7 510.5,260.6 474.7,264.7 491.6,271.2 506.9,264.1 564.9,258.8 522.7,262.7 510.6,264.9 539.1,263.8 552.0,268.7 496.2,268.4 555.5,278.6 540.0,266.4 528.9,258.7 452.6,267.9 522.1,271.6 554.6,259.2 509.3,264.0 579.4,264.2 518.8,262.0 489.2,260.5 532.9,265.4 524.8,271.1 539.5,253.8 510.8,264.7 552.2,270.6 501.8,263.9 520.5,257.3 483.0,275.2 495.2,256.5 522.4,266.1 499.1,252.3 504.7,260.8 511.3,265.9 523.8,256.9 537.8,256.8 537.8,267.6 544.8,263.6 522.5,268.8 502.1,259.1 473.8,275.1 507.5,266.4 495.3,280.4 467.5,261.3 561.9,281.3 466.9,272.6 526.7,263.4 532.2,267.6 510.6,268.3 587.6,272.0 517.6,268.4 496.1,277.6 565.1,263.0 495.2,259.9 477.8,260.1 489.6,265.4 499.5,257.1 518.3,262.1 526.2,258.9 475.4,262.5 526.6,264.9 578.1,270.5 497.5,284.7 513.4,260.9 536.0,265.9 550.0,252.4 498.8,279.2 490.7,259.6 489.4,271.8 547.0,265.1 541.7,271.4 457.8,262.8 458.5,265.3 483.1,259.4 475.9,264.2 528.2,262.0 523.0,256.8 570.7,261.7 538.8,266.0 520.4,257.0 549.4,265.9 492.6,262.4 478.7,267.4 517.9,269.8 542.8,286.8 472.7,260.6 541.6,273.3 540.6,260.3 503.3,253.5 521.7,274.4 509.5,259.4 519.3,265.8 539.2,262.1 495.0,273.5 545.5,264.9 540.9,264.1 541.9,255.8 463.0,251.5 466.0,263.0 536.0,267.7 501.0,251.0 498.1,265.8 496.1,265.5 480.2,264.4 509.2,262.0 497.2,260.5 499.0,269.1 530.2,265.8 484.6,253.0 547.9,254.6 456.0,262.2 585.8,263.3 479.7,266.7 533.0,258.4 542.1,268.7 516.9,264.2 537.4,268.3 514.0,269.4 468.6,264.8 526.5,265.0 548.4,269.1 501.9,265.5 470.4,264.6 500.5,268.3 525.9,269.7 525.3,266.0 547.4,260.5 532.3,257.8 530.9,263.8 462.0,266.9 578.3,265.2 518.4,252.8 540.7,259.1 507.5,271.7 512.8,265.4 518.7,268.8 560.3,267.6 558.7,276.9 534.1,264.8 571.7,274.6 506.2,269.2 531.3,255.2 504.5,258.5 552.7,271.2 518.1,272.3 544.1,271.5 564.6,278.4 460.1,271.9 576.9,266.9 526.0,272.4 508.4,260.1 464.4,265.4 508.9,268.8 453.8,253.7 519.7,260.4 512.5,264.6 567.5,253.1 508.2,256.5 546.8,270.0 549.4,262.9 574.2,268.1 510.4,275.2 538.3,252.8 475.3,255.3 486.7,274.0 509.8,261.8 516.7,276.6 483.8,258.0 505.9,265.4 536.7,267.1 504.7,256.8 513.1,264.9 492.8,266.8 555.6,259.1 566.6,267.1 523.1,259.3 514.2,265.0 563.5,259.6 530.7,260.9 498.9,259.8 480.1,272.1 501.1,252.9 578.2,266.1 501.0,253.6 517.4,269.2 511.5,266.9 554.1,266.9 510.7,257.4 528.0,268.0 488.7,262.3 483.0,276.2 497.1,268.4 523.7,263.5 499.1,265.8 463.1,278.4 530.7,261.7 512.9,271.9 509.8,252.5 500.5,266.4 455.1,250.6 561.5,260.6 504.2,262.0 532.1,268.4 556.1,265.8 548.8,262.0 523.2,279.0 517.8,258.5 526.0,273.4 542.7,266.8 533.6,285.7 505.2,262.0 530.0,260.1 528.0,263.1 536.8,262.9 523.3,267.7 555.5,264.0 523.2,257.1 542.2,268.0 518.8,261.7 501.7,260.2 491.4,266.7 513.2,263.4 532.4,263.6 552.7,268.5 515.1,249.5 503.2,268.1 503.5,253.8 553.4,258.0 520.5,279.7 503.7,263.4 538.1,258.2 481.0,259.6 520.8,271.5 516.4,263.3 513.9,273.6 485.6,272.5 544.8,266.7 564.2,263.8 480.9,254.4 520.9,262.6 535.5,258.0 580.1,273.6 506.1,273.3 491.3,268.5 517.5,253.5 573.4,274.6 519.5,276.4 524.9,265.6 566.8,257.1 458.5,276.8 457.6,266.8 542.7,274.8 539.1,255.4 479.2,260.4 532.0,263.2 518.8,265.4 523.6,266.7 495.4,264.1 505.1,269.7 493.3,271.4 519.0,273.0 511.2,265.0 564.2,270.8 535.0,259.2 474.1,280.4 529.1,261.3 557.3,261.5 525.4,257.0 547.7,266.9 516.7,275.9 537.1,271.7 491.7,257.5 539.4,267.2 479.5,268.0 553.4,269.3 475.7,265.5 459.1,266.7 532.3,276.3 512.8,269.4 520.8,258.4 529.5,255.4 516.9,265.9 493.1,268.8 523.5,256.0 527.2,266.3 531.3,273.6 572.6,266.0 497.3,260.4 519.5,254.7 533.1,268.6 505.3,261.5 484.4,267.4 501.9,257.5 547.1,263.4 510.2,263.3 534.6,272.2 497.3,267.4 530.0,267.4 498.9,259.4 494.3,265.1 520.7,266.6 519.1,267.7 558.4,264.9 472.6,263.5 531.7,274.5 562.3,264.2 555.3,264.3 507.0,264.9 498.8,275.8 503.9,266.1 526.0,274.3 522.9,262.8 527.3,256.3 534.2,259.3 488.0,267.5 486.4,269.0 483.7,269.2 480.5,262.8 514.9,269.9 526.3,268.9 587.8,284.1 532.4,271.2 518.1,270.7 556.9,269.0 497.3,257.0 527.0,274.9 544.6,274.7 539.4,261.1 528.8,272.2 508.0,266.3 483.2,263.9 513.4,265.0 501.1,270.7 536.7,259.0 513.9,255.1 533.2,272.3 473.1,267.1 544.6,258.9 494.0,266.6 474.4,272.3 479.5,268.2 500.2,259.6 548.7,272.3 537.4,263.4 485.1,262.6 520.0,269.8 514.7,261.3 474.2,260.7 490.2,258.5 461.2,258.9 493.5,275.9 444.3,259.2 495.6,261.2 491.7,258.6 495.6,271.2 494.8,259.1 549.6,262.6 508.0,273.5 524.3,256.6 538.5,270.7 542.5,272.4 536.4,262.5 502.3,269.4 487.3,262.7 496.1,266.9 504.6,263.2 517.8,259.7 515.3,265.3 547.9,259.3 514.8,259.5 567.2,271.1 546.1,259.4 504.3,261.0 541.4,264.2 438.2,257.7 555.7,254.1 529.0,260.0 528.6,275.6 471.1,262.1 587.3,266.0 510.6,267.0 513.7,262.8 548.7,267.4 512.3,254.3 494.1,263.2 535.8,264.9 489.6,259.9 538.1,259.7 521.4,257.2 548.8,260.8 484.2,265.3 552.0,264.1 525.7,280.8 572.1,275.6 499.6,258.2 568.9,267.4 537.1,253.2 539.4,253.2 497.5,274.0 533.0,263.0 536.1,247.2 494.7,270.7 485.7,262.4 496.3,266.7 558.0,266.8 522.0,267.0 543.5,265.1 590.7,264.7 612.2,267.1 566.7,263.4 592.2,270.0 578.2,265.5 570.6,260.8 612.9,271.6 577.8,266.7 610.7,272.2 616.5,261.4 575.0,261.1 613.3,260.2 617.5,259.9 565.1,258.2 614.4,261.4 594.7,270.4 565.2,258.8 588.5,271.4 611.5,252.8 611.0,263.7 615.1,262.1 587.8,273.7 569.0,258.0 579.2,257.6 577.2,276.3 594.0,269.0 575.8,268.5 590.1,269.6 577.6,256.2 585.2,251.8 595.1,272.4 607.9,259.3 566.6,267.1 584.5,256.5 578.4,283.3 594.4,268.1 600.3,257.9 599.8,270.3 571.1,257.3 570.8,268.9 612.4,259.1 577.8,261.4 598.7,268.0 565.6,270.8 592.4,266.4 574.3,257.6 596.8,265.3 568.2,270.0 614.4,274.6 598.1,266.8 594.0,261.9 585.6,272.4 606.0,265.4 583.8,268.1 595.0,275.2 581.6,262.3 565.5,273.5 584.9,270.4 606.7,258.2 595.1,272.7 568.4,261.1 566.2,257.2 571.8,258.6 594.2,262.4 577.5,266.9 574.9,275.2 613.2,264.5 565.4,262.2 608.3,268.5 579.5,272.2 607.2,260.3 576.8,272.7 587.9,262.5 570.5,268.7 576.3,277.3 595.4,255.4 597.5,261.6 571.7,261.6 595.0,274.8 628.9,266.1 592.9,263.6 576.4,270.6 597.7,255.3 591.7,279.2 596.2,261.0 609.7,277.0 620.9,274.2 571.0,274.6 574.8,261.6 570.1,270.5 635.3,268.8 630.3,270.2 602.8,275.0 594.0,271.5 571.2,272.5 577.4,267.7 570.1,268.2 580.0,283.2 568.7,270.2 565.7,257.3 567.2,269.0 584.0,266.1 571.3,270.8 567.2,270.6 602.8,266.1 603.5,274.3 622.2,266.6 606.7,276.2 623.0,264.0 595.8,276.3 588.6,261.6 582.6,259.2 578.8,277.2 565.6,261.1 599.6,268.5 578.1,258.2 601.2,269.3 622.0,267.4 605.7,267.7 587.4,257.8 590.1,279.2 614.7,261.7 574.6,265.2 591.9,269.2 592.4,267.5 592.8,260.0 576.8,260.4 584.7,255.1 587.3,270.3 605.8,277.9 625.9,268.9 567.0,267.3 606.2,268.7 586.2,258.1 595.3,252.2 589.2,263.5 606.8,277.1 582.3,259.2 581.7,270.4 589.7,265.6 626.8,261.8 583.0,263.5 583.1,266.4 587.3,264.1 635.5,262.5 571.3,261.7 592.5,253.3 593.1,271.2 615.1,269.4 579.4,260.5 593.5,264.5 575.2,260.3 581.4,275.9 567.9,267.5 576.4,261.7 581.4,266.3 577.2,268.8 582.6,264.1 576.7,255.1 575.3,281.4 579.2,255.6 597.0,264.2 593.9,271.7 629.3,262.8 570.3,265.6 607.0,259.0 568.1,271.8 574.1,259.5 565.7,272.6 586.9,263.9 565.5,261.2 567.5,266.5 595.4,262.0 595.6,269.9 568.7,258.8 593.8,269.3 583.3,270.8 612.8,266.6 591.2,266.3 588.3,271.7 633.1,262.3 576.2,266.8 584.6,262.0 604.3,275.5 600.6,274.6 566.6,267.9 565.5,273.2 576.3,266.9 627.3,263.2 567.5,258.4 565.8,256.0 618.9,261.8 570.5,271.0 578.0,262.3 612.2,269.1 581.8,262.4 566.7,273.6 582.7,257.3 601.0,263.4 571.2,268.0 575.7,275.6 578.8,264.0 565.4,269.8 598.1,264.3 568.6,271.1 573.6,269.8 584.2,261.9 603.2,257.1 568.2,275.1 626.4,267.0 587.3,263.4 571.6,267.0 572.0,269.1 589.0,252.6 568.5,272.0 571.4,263.5 624.1,268.6 613.5,266.5 593.5,282.0 602.4,260.6 569.3,267.4 576.2,272.8 565.6,254.6 591.5,267.8 565.2,270.4 569.1,272.0 635.3,261.1 568.4,265.7 630.7,267.5 589.1,274.9 586.3,272.1 570.0,263.5 581.6,266.0 579.5,280.3 598.6,271.7 630.0,264.8 578.3,249.1 566.0,271.4 626.0,278.2 586.1,261.0 582.4,269.2 603.2,274.4 595.1,262.4 589.1,267.5 570.5,272.9 606.3,274.1 574.8,266.8 593.0,265.3 572.4,278.8 574.3,259.4 594.1,274.4 602.1,257.5 627.4,264.3 597.8,267.1 594.8,263.8 592.6,269.9 576.8,266.4 618.1,257.2 591.5,269.8 567.0,260.3 585.7,272.1 579.1,266.0 571.1,259.4 598.3,273.9 607.1,263.9 616.0,278.8 613.3,272.7 631.2,268.0 572.6,260.0 590.8,261.4 582.3,272.3 600.8,266.8 598.2,264.7 567.8,277.3 576.1,263.1 573.7,256.9 567.7,257.5 576.0,270.1 585.9,268.7 577.7,272.5 570.9,269.5 606.6,267.5 567.5,261.3 574.8,265.3 597.8,272.1 582.2,260.6 595.3,260.4 568.0,270.3 621.2,267.3 581.6,266.6 608.8,276.1 582.7,265.0 609.2,262.1 566.2,252.9 576.2,264.6 633.5,267.3 567.8,267.0 611.2,262.5 580.9,260.7 586.0,271.8 576.6,264.6 579.5,261.6 630.5,276.4 585.3,257.1 570.5,267.4 603.3,260.7 573.5,266.2 588.8,267.5 605.2,266.4 584.7,264.0 568.7,260.0 601.1,267.6 619.6,272.2 597.4,270.5 620.5,271.3 585.2,261.0 573.1,272.7 578.8,255.9 606.2,265.1 621.0,266.4 575.8,257.2 608.4,268.1 603.3,267.7 574.0,260.6 608.5,261.6 582.9,272.8 570.6,250.0 590.4,262.2 575.2,274.8 589.1,267.0 624.0,261.2 572.9,264.3 589.8,260.4 587.7,251.3 571.7,259.6 593.1,253.5 575.0,261.3 617.1,269.6 611.6,257.4 588.6,270.5 574.8,259.4 570.6,261.3 574.2,271.8 588.4,270.5 591.7,266.9 570.3,263.0 602.4,257.8 586.2,265.2 628.0,256.7 581.7,260.0 585.0,270.1 605.7,269.5 582.4,265.0 605.0,268.9 589.1,266.2 569.5,260.3 616.8,264.2 616.2,260.4 569.9,270.5 578.6,271.6 590.6,275.0 569.1,278.5 582.1,268.6 567.5,265.0 588.7,266.9 586.1,265.4 619.9,255.2 606.8,272.3 575.9,267.4 597.6,268.7 624.5,270.5 570.0,256.4 588.7,265.7 570.6,257.1 575.2,273.4 586.7,253.7 565.4,250.5 586.0,271.4 577.1,265.5 567.4,266.3 588.7,261.9 572.9,274.7 572.9,262.3 621.8,261.8 583.7,269.5 589.5,281.4 568.9,270.3 623.5,267.7 591.8,260.6 577.0,269.7 77.9,266.9 82.4,275.7 91.2,272.4 106.4,274.9 113.4,276.6 122.0,272.8 130.0,274.0 116.9,260.6 116.9,261.5 139.6,254.4 140.3,258.4 137.9,260.7 135.6,264.0 139.1,263.0 141.4,265.4 141.9,266.3 154.3,255.1 150.8,260.7 155.4,263.0 157.3,270.0 158.2,271.7 154.3,279.4 162.5,265.8 162.5,272.4 166.0,265.4 168.1,291.8 176.9,283.4 177.9,285.7 189.3,288.2 230.0,244.3 240.0,243.6 426.0,240.1 533.1,240.8 492.2,242.7 485.0,243.9 552.3,244.3 513.3,244.3 356.7,245.5 387.8,246.2 417.5,246.9 334.5,245.5 338.0,245.5 268.0,290.4 431.5,290.6 546.4,291.8 590.3,291.8 489.9,290.8 530.0,290.3 535.2,290.3 539.4,290.3 402.3,288.3 656.2,256.4 660.6,268.7 654.8,274.6 648.3,274.6 645.7,254.2 648.7,257.4 644.3,259.8 642.3,260.8 635.0,248.3 631.0,248.8 634.4,255.8 634.4,275.2 634.4,276.0 636.4,268.7 624.5,254.8 617.5,250.8 617.5,252.8 621.9,282.6 623.1,277.6 626.5,278.2 607.6,283.2 600.7,248.8 590.8,249.8"/></g>
<g stroke="#1c1c1c" stroke-width="1" fill="none">
<rect x="54.5" y="238.9" width="629.5" height="55.49999999999997"/>
<line x1="54.5" y1="266.3" x2="684.0" y2="266.3" stroke="#2b2b2b"/>
<line x1="182.1" y1="294.4" x2="182.1" y2="301.8"/>
<line x1="311.1" y1="294.4" x2="311.1" y2="301.8"/>
<line x1="440.2" y1="294.4" x2="440.2" y2="301.8"/>
<line x1="569.2" y1="294.4" x2="569.2" y2="301.8"/>
<line x1="47.9" y1="245.3" x2="54.5" y2="245.3"/>
<line x1="47.9" y1="255.65" x2="54.5" y2="255.65"/>
<line x1="47.9" y1="266.0" x2="54.5" y2="266.0"/>
<line x1="47.9" y1="276.35" x2="54.5" y2="276.35"/>
<line x1="47.9" y1="286.7" x2="54.5" y2="286.7"/>
</g>
<text x="181.7" y="321.3" font-size="12" text-anchor="middle" fill="#1a1a1a" textLength="18.7" lengthAdjust="spacingAndGlyphs">400</text>
<text x="310.8" y="321.3" font-size="12" text-anchor="middle" fill="#1a1a1a" textLength="18.7" lengthAdjust="spacingAndGlyphs">450</text>
<text x="439.8" y="321.3" font-size="12" text-anchor="middle" fill="#1a1a1a" textLength="18.7" lengthAdjust="spacingAndGlyphs">500</text>
<text x="568.9" y="321.3" font-size="12" text-anchor="middle" fill="#1a1a1a" textLength="18.7" lengthAdjust="spacingAndGlyphs">550</text>
<text x="38.0" y="245.2" font-size="12.5" text-anchor="middle" fill="#2e2e2e" transform="rotate(-90 38.0 245.2)">200</text>
<text x="38.0" y="285.7" font-size="12.5" text-anchor="middle" fill="#2e2e2e" transform="rotate(-90 38.0 285.7)">-200</text>
<text x="10.6" y="266.0" font-size="12.3" text-anchor="middle" fill="#2e2e2e" transform="rotate(-90 10.6 266.0)" textLength="56.2" lengthAdjust="spacingAndGlyphs">Residuals</text>
<text x="369.0" y="351.8" font-size="12" text-anchor="middle" fill="#1a1a1a" textLength="66.3" lengthAdjust="spacingAndGlyphs">Fitted Values</text>
</svg></body></html>
